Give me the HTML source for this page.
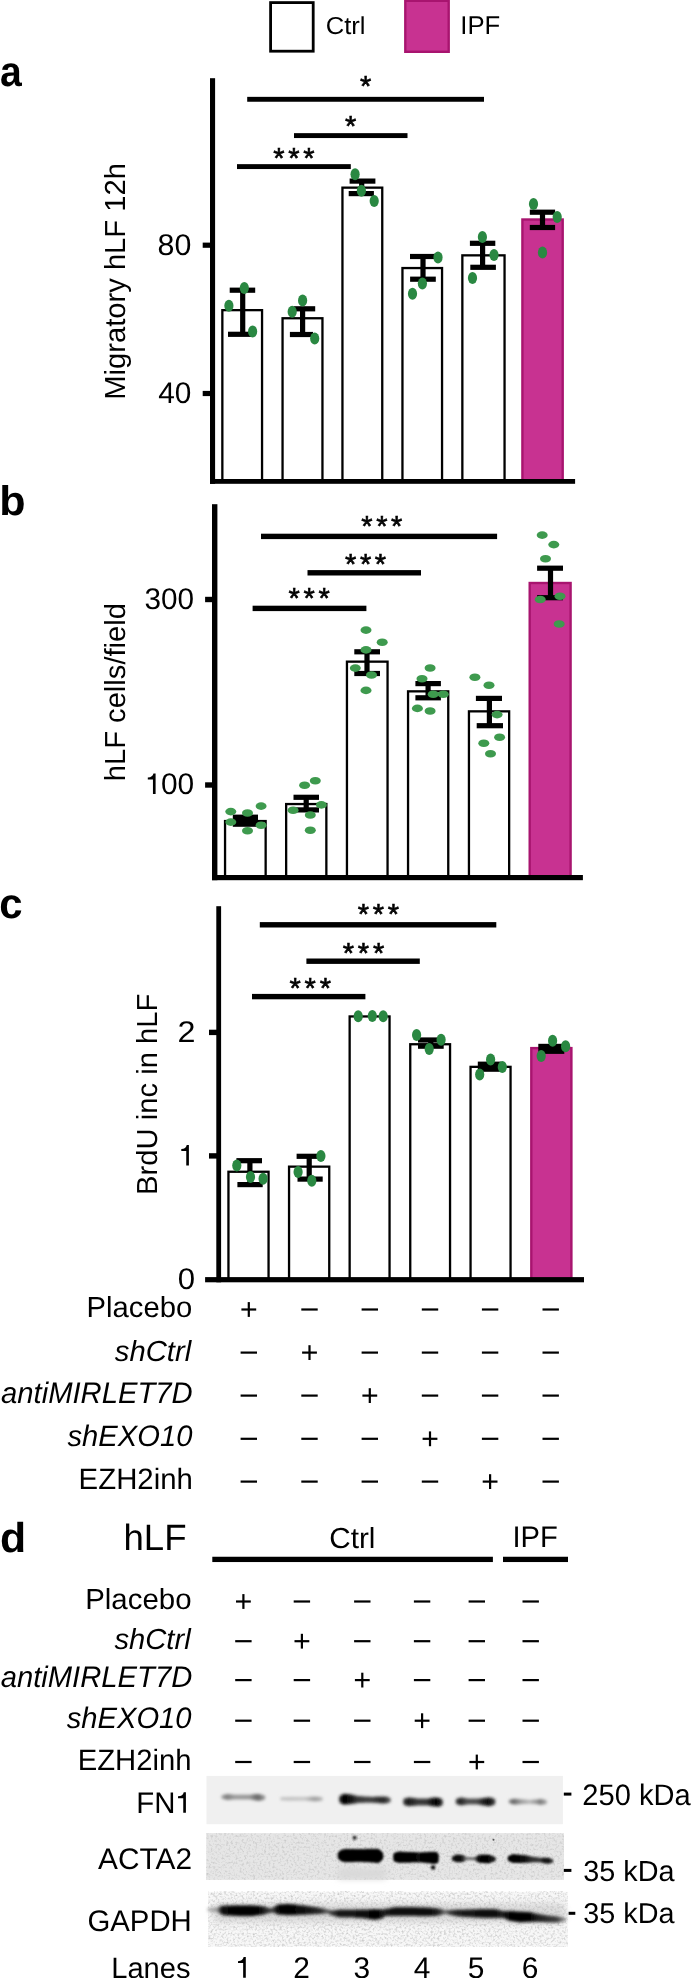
<!DOCTYPE html><html><head><meta charset="utf-8"><style>html,body{margin:0;padding:0;background:#fff;overflow:hidden}svg{display:block;will-change:transform}text{font-family:"Liberation Sans",sans-serif;text-rendering:geometricPrecision}</style></head><body>
<svg width="692" height="1978" viewBox="0 0 692 1978">
<defs><filter id="b12" x="-30%" y="-100%" width="160%" height="300%"><feGaussianBlur stdDeviation="1.2"/></filter><filter id="b14" x="-30%" y="-100%" width="160%" height="300%"><feGaussianBlur stdDeviation="1.4"/></filter><filter id="b18" x="-30%" y="-100%" width="160%" height="300%"><feGaussianBlur stdDeviation="1.8"/></filter><filter id="b20" x="-30%" y="-100%" width="160%" height="300%"><feGaussianBlur stdDeviation="2.0"/></filter><filter id="b30" x="-30%" y="-100%" width="160%" height="300%"><feGaussianBlur stdDeviation="3.0"/></filter></defs>
<defs><filter id="nz1" x="0" y="0" width="100%" height="100%" filterUnits="objectBoundingBox"><feTurbulence type="fractalNoise" baseFrequency="0.45" numOctaves="2" seed="7"/><feGaussianBlur stdDeviation="0.6"/><feColorMatrix type="matrix" values="0 0 0 0 0  0 0 0 0 0  0 0 0 0 0  0.45 0 0 0 -0.2"/></filter><filter id="nz2" x="0" y="0" width="100%" height="100%" filterUnits="objectBoundingBox"><feTurbulence type="fractalNoise" baseFrequency="0.45" numOctaves="2" seed="3"/><feGaussianBlur stdDeviation="0.6"/><feColorMatrix type="matrix" values="0 0 0 0 0  0 0 0 0 0  0 0 0 0 0  0.3 0 0 0 -0.14"/></filter></defs>
<defs><filter id="bl1" x="-20%" y="-50%" width="140%" height="200%"><feGaussianBlur stdDeviation="1.6"/></filter><filter id="bl2" x="-20%" y="-50%" width="140%" height="200%"><feGaussianBlur stdDeviation="2.2"/></filter><filter id="bl3" x="-5%" y="-5%" width="110%" height="110%"><feGaussianBlur stdDeviation="3"/></filter></defs>
<rect width="692" height="1978" fill="#fff"/>
<rect x="270.6" y="2.6" width="42.6" height="48.6" fill="#fff" stroke="#000" stroke-width="2.8"/>
<rect x="405.3" y="0.8" width="43.4" height="51.0" fill="#C83291" stroke="#A8146F" stroke-width="2.4"/>
<text x="325.65" y="34.40" font-size="24.5" font-weight="normal" font-style="normal" textLength="39.83" lengthAdjust="spacingAndGlyphs" fill="#000">Ctrl</text>
<text x="460.30" y="34.40" font-size="25.7" font-weight="normal" font-style="normal" textLength="39.98" lengthAdjust="spacingAndGlyphs" fill="#000">IPF</text>
<text x="-0.10" y="85.80" font-size="42.5" font-weight="bold" font-style="normal" textLength="21.77" lengthAdjust="spacingAndGlyphs" fill="#000">a</text>
<text x="-0.82" y="515.10" font-size="41.3" font-weight="bold" font-style="normal" textLength="26.32" lengthAdjust="spacingAndGlyphs" fill="#000">b</text>
<text x="-0.78" y="918.10" font-size="42.5" font-weight="bold" font-style="normal" textLength="23.30" lengthAdjust="spacingAndGlyphs" fill="#000">c</text>
<text x="-0.14" y="1551.90" font-size="41.8" font-weight="bold" font-style="normal" textLength="26.13" lengthAdjust="spacingAndGlyphs" fill="#000">d</text>
<text transform="translate(124.50,399.81) rotate(-90)" x="0" y="0" font-size="29" textLength="236.76" lengthAdjust="spacingAndGlyphs">Migratory hLF 12h</text>
<text x="157.58" y="254.50" font-size="29.9" font-weight="normal" font-style="normal" textLength="33.80" lengthAdjust="spacingAndGlyphs" fill="#000">80</text>
<text x="158.20" y="403.30" font-size="29.9" font-weight="normal" font-style="normal" textLength="33.15" lengthAdjust="spacingAndGlyphs" fill="#000">40</text>
<rect x="222.35" y="310.15" width="39.70" height="170.00" fill="#fff" stroke="#000" stroke-width="2.3"/>
<rect x="282.55" y="318.25" width="39.90" height="161.90" fill="#fff" stroke="#000" stroke-width="2.3"/>
<rect x="342.45" y="187.65" width="39.80" height="292.50" fill="#fff" stroke="#000" stroke-width="2.3"/>
<rect x="402.45" y="268.05" width="39.60" height="212.10" fill="#fff" stroke="#000" stroke-width="2.3"/>
<rect x="462.35" y="255.35" width="42.20" height="224.80" fill="#fff" stroke="#000" stroke-width="2.3"/>
<rect x="522.40" y="219.50" width="40.30" height="260.70" fill="#C83291" stroke="#A8146F" stroke-width="2.4"/>
<rect x="240.10" y="290.20" width="5.20" height="44.10" fill="#000"/>
<rect x="229.70" y="287.60" width="25.50" height="5.20" fill="#000"/>
<rect x="228.00" y="331.70" width="25.00" height="5.20" fill="#000"/>
<rect x="300.00" y="308.80" width="5.20" height="25.70" fill="#000"/>
<rect x="293.90" y="306.20" width="21.30" height="5.20" fill="#000"/>
<rect x="289.90" y="331.90" width="23.10" height="5.20" fill="#000"/>
<rect x="359.10" y="181.10" width="5.20" height="12.50" fill="#000"/>
<rect x="349.60" y="178.50" width="25.80" height="5.20" fill="#000"/>
<rect x="348.70" y="191.00" width="25.20" height="5.20" fill="#000"/>
<rect x="420.40" y="256.50" width="5.20" height="22.70" fill="#000"/>
<rect x="410.00" y="253.90" width="26.00" height="5.20" fill="#000"/>
<rect x="410.10" y="276.60" width="25.70" height="5.20" fill="#000"/>
<rect x="480.00" y="243.30" width="5.20" height="24.00" fill="#000"/>
<rect x="469.90" y="240.70" width="25.40" height="5.20" fill="#000"/>
<rect x="470.30" y="264.70" width="25.60" height="5.20" fill="#000"/>
<rect x="539.90" y="212.20" width="5.20" height="15.30" fill="#000"/>
<rect x="529.80" y="209.60" width="25.30" height="5.20" fill="#000"/>
<rect x="529.80" y="224.90" width="25.30" height="5.20" fill="#000"/>
<ellipse cx="244.30" cy="288.10" rx="4.6" ry="6.0" fill="#2A8842"/>
<ellipse cx="228.90" cy="305.80" rx="4.6" ry="6.0" fill="#2A8842"/>
<ellipse cx="252.60" cy="331.40" rx="4.6" ry="6.0" fill="#2A8842"/>
<ellipse cx="302.60" cy="300.50" rx="4.6" ry="6.0" fill="#2A8842"/>
<ellipse cx="292.20" cy="311.80" rx="4.6" ry="6.0" fill="#2A8842"/>
<ellipse cx="314.70" cy="338.60" rx="4.6" ry="6.0" fill="#2A8842"/>
<ellipse cx="355.10" cy="174.20" rx="4.6" ry="6.0" fill="#2A8842"/>
<ellipse cx="361.40" cy="190.70" rx="4.6" ry="6.0" fill="#2A8842"/>
<ellipse cx="374.20" cy="200.90" rx="4.6" ry="6.0" fill="#2A8842"/>
<ellipse cx="438.00" cy="257.40" rx="4.6" ry="6.0" fill="#2A8842"/>
<ellipse cx="422.40" cy="283.40" rx="4.6" ry="6.0" fill="#2A8842"/>
<ellipse cx="412.50" cy="293.80" rx="4.6" ry="6.0" fill="#2A8842"/>
<ellipse cx="482.40" cy="236.90" rx="4.6" ry="6.0" fill="#2A8842"/>
<ellipse cx="494.00" cy="255.00" rx="4.6" ry="6.0" fill="#2A8842"/>
<ellipse cx="472.50" cy="278.00" rx="4.6" ry="6.0" fill="#2A8842"/>
<ellipse cx="533.50" cy="203.90" rx="4.6" ry="6.0" fill="#2A8842"/>
<ellipse cx="557.20" cy="216.90" rx="4.6" ry="6.0" fill="#2A8842"/>
<ellipse cx="542.50" cy="252.40" rx="4.6" ry="6.0" fill="#2A8842"/>
<rect x="210.00" y="78.20" width="5.10" height="405.60" fill="#000"/>
<rect x="210.00" y="479.00" width="365.10" height="4.80" fill="#000"/>
<rect x="202.70" y="242.60" width="9.30" height="5.20" fill="#000"/>
<rect x="202.70" y="390.90" width="9.30" height="5.20" fill="#000"/>
<rect x="247.20" y="96.85" width="236.80" height="4.90" fill="#000"/>
<rect x="294.00" y="133.15" width="113.50" height="4.90" fill="#000"/>
<rect x="237.00" y="164.15" width="113.80" height="4.90" fill="#000"/>
<text x="360.05" y="95.60" font-size="29.0" font-weight="normal" font-style="normal" fill="#000" stroke="#000" stroke-width="0.6">*</text>
<text x="345.00" y="136.40" font-size="29.0" font-weight="normal" font-style="normal" fill="#000" stroke="#000" stroke-width="0.6">*</text>
<text x="273.25" y="168.30" font-size="29.0" font-weight="normal" font-style="normal" fill="#000" stroke="#000" stroke-width="0.6">*</text>
<text x="288.30" y="168.30" font-size="29.0" font-weight="normal" font-style="normal" fill="#000" stroke="#000" stroke-width="0.6">*</text>
<text x="303.35" y="168.30" font-size="29.0" font-weight="normal" font-style="normal" fill="#000" stroke="#000" stroke-width="0.6">*</text>
<text transform="translate(124.60,781.31) rotate(-90)" x="0" y="0" font-size="29" textLength="178.32" lengthAdjust="spacingAndGlyphs">hLF cells/field</text>
<text x="144.51" y="609.10" font-size="29.9" font-weight="normal" font-style="normal" textLength="49.58" lengthAdjust="spacingAndGlyphs" fill="#000">300</text>
<path d="M152.95,794.00 L155.60,794.00 L155.60,773.60 L153.45,773.60 C152.75,776.05 151.35,777.48 147.80,777.58 L147.80,779.52 L152.95,779.52 Z" fill="#000"/>
<text x="160.90" y="794.10" font-size="29.9" font-weight="normal" font-style="normal" textLength="33.26" lengthAdjust="spacingAndGlyphs" fill="#000">00</text>
<rect x="225.05" y="821.05" width="40.60" height="56.10" fill="#fff" stroke="#000" stroke-width="2.3"/>
<rect x="286.15" y="804.05" width="40.20" height="73.10" fill="#fff" stroke="#000" stroke-width="2.3"/>
<rect x="346.95" y="661.65" width="40.60" height="215.50" fill="#fff" stroke="#000" stroke-width="2.3"/>
<rect x="408.05" y="691.35" width="40.20" height="185.80" fill="#fff" stroke="#000" stroke-width="2.3"/>
<rect x="468.95" y="711.35" width="40.20" height="165.80" fill="#fff" stroke="#000" stroke-width="2.3"/>
<rect x="529.70" y="583.00" width="40.90" height="294.20" fill="#C83291" stroke="#A8146F" stroke-width="2.4"/>
<rect x="232.80" y="814.60" width="25.20" height="12.20" fill="#000"/>
<rect x="303.60" y="797.30" width="5.20" height="12.60" fill="#000"/>
<rect x="293.50" y="794.70" width="25.50" height="5.20" fill="#000"/>
<rect x="293.50" y="807.30" width="25.50" height="5.20" fill="#000"/>
<rect x="364.40" y="651.80" width="5.20" height="21.70" fill="#000"/>
<rect x="354.30" y="649.20" width="25.70" height="5.20" fill="#000"/>
<rect x="354.30" y="670.90" width="25.70" height="5.20" fill="#000"/>
<rect x="425.50" y="683.60" width="5.20" height="14.20" fill="#000"/>
<rect x="415.40" y="681.00" width="25.50" height="5.20" fill="#000"/>
<rect x="415.40" y="695.20" width="25.50" height="5.20" fill="#000"/>
<rect x="486.80" y="698.40" width="5.20" height="27.30" fill="#000"/>
<rect x="475.90" y="695.80" width="26.10" height="5.20" fill="#000"/>
<rect x="476.70" y="723.10" width="26.30" height="5.20" fill="#000"/>
<rect x="547.90" y="568.20" width="5.20" height="29.50" fill="#000"/>
<rect x="537.10" y="565.60" width="25.90" height="5.20" fill="#000"/>
<rect x="537.10" y="595.10" width="25.90" height="5.20" fill="#000"/>
<ellipse cx="230.80" cy="811.60" rx="5.5" ry="3.8" fill="#3E9A4E"/>
<ellipse cx="247.50" cy="813.00" rx="5.5" ry="3.8" fill="#3E9A4E"/>
<ellipse cx="261.10" cy="806.10" rx="5.5" ry="3.8" fill="#3E9A4E"/>
<ellipse cx="230.80" cy="822.10" rx="5.5" ry="3.8" fill="#3E9A4E"/>
<ellipse cx="261.10" cy="825.30" rx="5.5" ry="3.8" fill="#3E9A4E"/>
<ellipse cx="247.50" cy="830.80" rx="5.5" ry="3.8" fill="#3E9A4E"/>
<ellipse cx="315.30" cy="780.80" rx="5.5" ry="3.8" fill="#3E9A4E"/>
<ellipse cx="304.60" cy="785.30" rx="5.5" ry="3.8" fill="#3E9A4E"/>
<ellipse cx="321.40" cy="804.90" rx="5.5" ry="3.8" fill="#3E9A4E"/>
<ellipse cx="293.10" cy="810.20" rx="5.5" ry="3.8" fill="#3E9A4E"/>
<ellipse cx="310.30" cy="815.00" rx="5.5" ry="3.8" fill="#3E9A4E"/>
<ellipse cx="310.30" cy="830.20" rx="5.5" ry="3.8" fill="#3E9A4E"/>
<ellipse cx="366.00" cy="630.10" rx="5.5" ry="3.8" fill="#3E9A4E"/>
<ellipse cx="382.20" cy="642.30" rx="5.5" ry="3.8" fill="#3E9A4E"/>
<ellipse cx="366.00" cy="649.90" rx="5.5" ry="3.8" fill="#3E9A4E"/>
<ellipse cx="355.30" cy="668.10" rx="5.5" ry="3.8" fill="#3E9A4E"/>
<ellipse cx="371.50" cy="675.00" rx="5.5" ry="3.8" fill="#3E9A4E"/>
<ellipse cx="366.00" cy="690.40" rx="5.5" ry="3.8" fill="#3E9A4E"/>
<ellipse cx="430.10" cy="668.00" rx="5.5" ry="3.8" fill="#3E9A4E"/>
<ellipse cx="422.00" cy="678.70" rx="5.5" ry="3.8" fill="#3E9A4E"/>
<ellipse cx="433.20" cy="694.20" rx="5.5" ry="3.8" fill="#3E9A4E"/>
<ellipse cx="443.30" cy="694.20" rx="5.5" ry="3.8" fill="#3E9A4E"/>
<ellipse cx="417.40" cy="708.40" rx="5.5" ry="3.8" fill="#3E9A4E"/>
<ellipse cx="430.10" cy="711.00" rx="5.5" ry="3.8" fill="#3E9A4E"/>
<ellipse cx="474.90" cy="677.20" rx="5.5" ry="3.8" fill="#3E9A4E"/>
<ellipse cx="489.00" cy="685.30" rx="5.5" ry="3.8" fill="#3E9A4E"/>
<ellipse cx="497.10" cy="714.60" rx="5.5" ry="3.8" fill="#3E9A4E"/>
<ellipse cx="499.60" cy="737.30" rx="5.5" ry="3.8" fill="#3E9A4E"/>
<ellipse cx="483.80" cy="743.30" rx="5.5" ry="3.8" fill="#3E9A4E"/>
<ellipse cx="490.50" cy="753.70" rx="5.5" ry="3.8" fill="#3E9A4E"/>
<ellipse cx="542.20" cy="535.10" rx="5.5" ry="3.8" fill="#3E9A4E"/>
<ellipse cx="553.80" cy="544.60" rx="5.5" ry="3.8" fill="#3E9A4E"/>
<ellipse cx="545.50" cy="558.70" rx="5.5" ry="3.8" fill="#3E9A4E"/>
<ellipse cx="560.00" cy="596.20" rx="5.5" ry="3.8" fill="#3E9A4E"/>
<ellipse cx="540.20" cy="599.50" rx="5.5" ry="3.8" fill="#3E9A4E"/>
<ellipse cx="559.20" cy="624.00" rx="5.5" ry="3.8" fill="#3E9A4E"/>
<rect x="212.00" y="504.20" width="5.40" height="376.00" fill="#000"/>
<rect x="212.00" y="875.00" width="370.90" height="5.20" fill="#000"/>
<rect x="205.10" y="596.80" width="8.90" height="5.40" fill="#000"/>
<rect x="205.10" y="782.30" width="8.90" height="5.40" fill="#000"/>
<rect x="261.00" y="533.70" width="236.10" height="5.40" fill="#000"/>
<rect x="307.50" y="570.10" width="113.50" height="5.40" fill="#000"/>
<rect x="252.60" y="605.70" width="113.80" height="5.40" fill="#000"/>
<text x="361.35" y="536.30" font-size="29.0" font-weight="normal" font-style="normal" fill="#000" stroke="#000" stroke-width="0.6">*</text>
<text x="376.15" y="536.30" font-size="29.0" font-weight="normal" font-style="normal" fill="#000" stroke="#000" stroke-width="0.6">*</text>
<text x="390.95" y="536.30" font-size="29.0" font-weight="normal" font-style="normal" fill="#000" stroke="#000" stroke-width="0.6">*</text>
<text x="345.05" y="573.90" font-size="29.0" font-weight="normal" font-style="normal" fill="#000" stroke="#000" stroke-width="0.6">*</text>
<text x="359.95" y="573.90" font-size="29.0" font-weight="normal" font-style="normal" fill="#000" stroke="#000" stroke-width="0.6">*</text>
<text x="374.85" y="573.90" font-size="29.0" font-weight="normal" font-style="normal" fill="#000" stroke="#000" stroke-width="0.6">*</text>
<text x="288.45" y="607.80" font-size="29.0" font-weight="normal" font-style="normal" fill="#000" stroke="#000" stroke-width="0.6">*</text>
<text x="303.45" y="607.80" font-size="29.0" font-weight="normal" font-style="normal" fill="#000" stroke="#000" stroke-width="0.6">*</text>
<text x="318.45" y="607.80" font-size="29.0" font-weight="normal" font-style="normal" fill="#000" stroke="#000" stroke-width="0.6">*</text>
<text transform="translate(156.90,1195.02) rotate(-90)" x="0" y="0" font-size="29" textLength="201.38" lengthAdjust="spacingAndGlyphs">BrdU inc in hLF</text>
<text x="177.48" y="1041.60" font-size="29.9" font-weight="normal" font-style="normal" textLength="17.98" lengthAdjust="spacingAndGlyphs" fill="#000">2</text>
<path d="M186.25,1165.60 L188.90,1165.60 L188.90,1144.90 L186.75,1144.90 C186.05,1147.38 184.65,1148.83 181.30,1148.94 L181.30,1150.90 L186.25,1150.90 Z" fill="#000"/>
<text x="177.85" y="1289.10" font-size="29.9" font-weight="normal" font-style="normal" textLength="17.33" lengthAdjust="spacingAndGlyphs" fill="#000">0</text>
<rect x="228.45" y="1171.75" width="40.10" height="107.40" fill="#fff" stroke="#000" stroke-width="2.3"/>
<rect x="289.05" y="1166.65" width="40.20" height="112.50" fill="#fff" stroke="#000" stroke-width="2.3"/>
<rect x="349.65" y="1016.45" width="39.90" height="262.70" fill="#fff" stroke="#000" stroke-width="2.3"/>
<rect x="410.25" y="1044.25" width="39.80" height="234.90" fill="#fff" stroke="#000" stroke-width="2.3"/>
<rect x="470.55" y="1066.85" width="40.00" height="212.30" fill="#fff" stroke="#000" stroke-width="2.3"/>
<rect x="531.30" y="1048.10" width="40.10" height="231.10" fill="#C83291" stroke="#A8146F" stroke-width="2.4"/>
<rect x="247.30" y="1160.70" width="5.20" height="23.90" fill="#000"/>
<rect x="236.40" y="1158.10" width="25.60" height="5.20" fill="#000"/>
<rect x="237.40" y="1182.00" width="25.30" height="5.20" fill="#000"/>
<rect x="306.60" y="1156.30" width="5.20" height="22.80" fill="#000"/>
<rect x="296.60" y="1153.70" width="25.30" height="5.20" fill="#000"/>
<rect x="297.50" y="1176.50" width="25.20" height="5.20" fill="#000"/>
<rect x="428.20" y="1040.00" width="5.20" height="6.20" fill="#000"/>
<rect x="418.00" y="1037.40" width="25.70" height="5.20" fill="#000"/>
<rect x="418.00" y="1043.60" width="25.70" height="5.20" fill="#000"/>
<rect x="486.90" y="1064.20" width="5.20" height="5.00" fill="#000"/>
<rect x="477.80" y="1061.60" width="23.50" height="5.20" fill="#000"/>
<rect x="477.80" y="1066.60" width="23.50" height="5.20" fill="#000"/>
<rect x="548.70" y="1046.40" width="5.20" height="4.90" fill="#000"/>
<rect x="538.30" y="1043.80" width="26.00" height="5.20" fill="#000"/>
<rect x="538.30" y="1048.70" width="26.00" height="5.20" fill="#000"/>
<ellipse cx="236.80" cy="1165.50" rx="4.6" ry="6.0" fill="#2A8842"/>
<ellipse cx="250.50" cy="1177.00" rx="4.6" ry="6.0" fill="#2A8842"/>
<ellipse cx="263.10" cy="1178.70" rx="4.6" ry="6.0" fill="#2A8842"/>
<ellipse cx="320.90" cy="1156.00" rx="4.6" ry="6.0" fill="#2A8842"/>
<ellipse cx="298.10" cy="1172.00" rx="4.6" ry="6.0" fill="#2A8842"/>
<ellipse cx="311.80" cy="1180.70" rx="4.6" ry="6.0" fill="#2A8842"/>
<ellipse cx="358.20" cy="1016.30" rx="4.6" ry="6.0" fill="#2A8842"/>
<ellipse cx="372.30" cy="1015.90" rx="4.6" ry="6.0" fill="#2A8842"/>
<ellipse cx="383.20" cy="1016.30" rx="4.6" ry="6.0" fill="#2A8842"/>
<ellipse cx="416.60" cy="1035.10" rx="4.6" ry="6.0" fill="#2A8842"/>
<ellipse cx="441.10" cy="1039.80" rx="4.6" ry="6.0" fill="#2A8842"/>
<ellipse cx="429.20" cy="1049.10" rx="4.6" ry="6.0" fill="#2A8842"/>
<ellipse cx="490.60" cy="1059.50" rx="4.6" ry="6.0" fill="#2A8842"/>
<ellipse cx="502.30" cy="1067.00" rx="4.6" ry="6.0" fill="#2A8842"/>
<ellipse cx="479.70" cy="1074.50" rx="4.6" ry="6.0" fill="#2A8842"/>
<ellipse cx="552.60" cy="1040.70" rx="4.6" ry="6.0" fill="#2A8842"/>
<ellipse cx="565.60" cy="1046.30" rx="4.6" ry="6.0" fill="#2A8842"/>
<ellipse cx="541.20" cy="1056.10" rx="4.6" ry="6.0" fill="#2A8842"/>
<rect x="216.30" y="906.20" width="4.80" height="376.10" fill="#000"/>
<rect x="205.10" y="1277.10" width="378.90" height="5.20" fill="#000"/>
<rect x="209.00" y="1029.70" width="9.00" height="5.40" fill="#000"/>
<rect x="209.00" y="1153.20" width="9.00" height="5.40" fill="#000"/>
<rect x="259.80" y="922.10" width="236.50" height="5.40" fill="#000"/>
<rect x="306.40" y="958.50" width="113.40" height="5.40" fill="#000"/>
<rect x="252.00" y="993.90" width="113.40" height="5.40" fill="#000"/>
<text x="357.65" y="924.30" font-size="29.0" font-weight="normal" font-style="normal" fill="#000" stroke="#000" stroke-width="0.6">*</text>
<text x="372.70" y="924.30" font-size="29.0" font-weight="normal" font-style="normal" fill="#000" stroke="#000" stroke-width="0.6">*</text>
<text x="387.75" y="924.30" font-size="29.0" font-weight="normal" font-style="normal" fill="#000" stroke="#000" stroke-width="0.6">*</text>
<text x="342.75" y="963.30" font-size="29.0" font-weight="normal" font-style="normal" fill="#000" stroke="#000" stroke-width="0.6">*</text>
<text x="357.85" y="963.30" font-size="29.0" font-weight="normal" font-style="normal" fill="#000" stroke="#000" stroke-width="0.6">*</text>
<text x="372.95" y="963.30" font-size="29.0" font-weight="normal" font-style="normal" fill="#000" stroke="#000" stroke-width="0.6">*</text>
<text x="289.55" y="998.30" font-size="29.0" font-weight="normal" font-style="normal" fill="#000" stroke="#000" stroke-width="0.6">*</text>
<text x="304.60" y="998.30" font-size="29.0" font-weight="normal" font-style="normal" fill="#000" stroke="#000" stroke-width="0.6">*</text>
<text x="319.65" y="998.30" font-size="29.0" font-weight="normal" font-style="normal" fill="#000" stroke="#000" stroke-width="0.6">*</text>
<text x="86.58" y="1317.20" font-size="29.0" font-weight="normal" font-style="normal" textLength="105.63" lengthAdjust="spacingAndGlyphs" fill="#000">Placebo</text>
<text x="114.80" y="1360.70" font-size="29.0" font-weight="normal" font-style="italic" textLength="76.33" lengthAdjust="spacingAndGlyphs" fill="#000">shCtrl</text>
<text x="1.01" y="1402.90" font-size="29.7" font-weight="normal" font-style="italic" textLength="191.73" lengthAdjust="spacingAndGlyphs" fill="#000">antiMIRLET7D</text>
<text x="67.50" y="1446.00" font-size="29.6" font-weight="normal" font-style="italic" textLength="124.99" lengthAdjust="spacingAndGlyphs" fill="#000">shEXO10</text>
<text x="78.61" y="1489.00" font-size="29.5" font-weight="normal" font-style="normal" textLength="114.26" lengthAdjust="spacingAndGlyphs" fill="#000">EZH2inh</text>
<rect x="241.40" y="1308.40" width="14.80" height="2.20" fill="#000"/>
<rect x="247.70" y="1302.10" width="2.20" height="14.80" fill="#000"/>
<rect x="301.30" y="1308.40" width="16.40" height="2.20" fill="#000"/>
<rect x="361.60" y="1308.40" width="16.40" height="2.20" fill="#000"/>
<rect x="421.80" y="1308.40" width="16.40" height="2.20" fill="#000"/>
<rect x="481.90" y="1308.40" width="16.40" height="2.20" fill="#000"/>
<rect x="542.50" y="1308.40" width="16.40" height="2.20" fill="#000"/>
<rect x="240.60" y="1351.50" width="16.40" height="2.20" fill="#000"/>
<rect x="302.10" y="1351.50" width="14.80" height="2.20" fill="#000"/>
<rect x="308.40" y="1345.20" width="2.20" height="14.80" fill="#000"/>
<rect x="361.60" y="1351.50" width="16.40" height="2.20" fill="#000"/>
<rect x="421.80" y="1351.50" width="16.40" height="2.20" fill="#000"/>
<rect x="481.90" y="1351.50" width="16.40" height="2.20" fill="#000"/>
<rect x="542.50" y="1351.50" width="16.40" height="2.20" fill="#000"/>
<rect x="240.60" y="1394.50" width="16.40" height="2.20" fill="#000"/>
<rect x="301.30" y="1394.50" width="16.40" height="2.20" fill="#000"/>
<rect x="362.40" y="1394.50" width="14.80" height="2.20" fill="#000"/>
<rect x="368.70" y="1388.20" width="2.20" height="14.80" fill="#000"/>
<rect x="421.80" y="1394.50" width="16.40" height="2.20" fill="#000"/>
<rect x="481.90" y="1394.50" width="16.40" height="2.20" fill="#000"/>
<rect x="542.50" y="1394.50" width="16.40" height="2.20" fill="#000"/>
<rect x="240.60" y="1437.70" width="16.40" height="2.20" fill="#000"/>
<rect x="301.30" y="1437.70" width="16.40" height="2.20" fill="#000"/>
<rect x="361.60" y="1437.70" width="16.40" height="2.20" fill="#000"/>
<rect x="422.60" y="1437.70" width="14.80" height="2.20" fill="#000"/>
<rect x="428.90" y="1431.40" width="2.20" height="14.80" fill="#000"/>
<rect x="481.90" y="1437.70" width="16.40" height="2.20" fill="#000"/>
<rect x="542.50" y="1437.70" width="16.40" height="2.20" fill="#000"/>
<rect x="240.60" y="1480.50" width="16.40" height="2.20" fill="#000"/>
<rect x="301.30" y="1480.50" width="16.40" height="2.20" fill="#000"/>
<rect x="361.60" y="1480.50" width="16.40" height="2.20" fill="#000"/>
<rect x="421.80" y="1480.50" width="16.40" height="2.20" fill="#000"/>
<rect x="482.70" y="1480.50" width="14.80" height="2.20" fill="#000"/>
<rect x="489.00" y="1474.20" width="2.20" height="14.80" fill="#000"/>
<rect x="542.50" y="1480.50" width="16.40" height="2.20" fill="#000"/>
<text x="123.50" y="1549.90" font-size="36.6" font-weight="normal" font-style="normal" textLength="63.07" lengthAdjust="spacingAndGlyphs" fill="#000">hLF</text>
<rect x="212.30" y="1556.75" width="280.60" height="5.30" fill="#000"/>
<rect x="503.00" y="1556.75" width="65.00" height="5.30" fill="#000"/>
<text x="329.26" y="1547.50" font-size="29" font-weight="normal" font-style="normal" textLength="46.18" lengthAdjust="spacingAndGlyphs" fill="#000">Ctrl</text>
<text x="512.46" y="1547.40" font-size="29.8" font-weight="normal" font-style="normal" textLength="45.38" lengthAdjust="spacingAndGlyphs" fill="#000">IPF</text>
<text x="85.16" y="1609.30" font-size="29.0" font-weight="normal" font-style="normal" textLength="106.35" lengthAdjust="spacingAndGlyphs" fill="#000">Placebo</text>
<text x="114.40" y="1648.60" font-size="29.0" font-weight="normal" font-style="italic" textLength="76.23" lengthAdjust="spacingAndGlyphs" fill="#000">shCtrl</text>
<text x="0.71" y="1687.30" font-size="29.7" font-weight="normal" font-style="italic" textLength="191.53" lengthAdjust="spacingAndGlyphs" fill="#000">antiMIRLET7D</text>
<text x="66.70" y="1727.80" font-size="29.6" font-weight="normal" font-style="italic" textLength="124.89" lengthAdjust="spacingAndGlyphs" fill="#000">shEXO10</text>
<text x="77.72" y="1769.50" font-size="29.5" font-weight="normal" font-style="normal" textLength="113.74" lengthAdjust="spacingAndGlyphs" fill="#000">EZH2inh</text>
<rect x="236.00" y="1600.40" width="14.80" height="2.20" fill="#000"/>
<rect x="242.30" y="1594.10" width="2.20" height="14.80" fill="#000"/>
<rect x="293.70" y="1600.40" width="16.40" height="2.20" fill="#000"/>
<rect x="354.10" y="1600.40" width="16.40" height="2.20" fill="#000"/>
<rect x="413.90" y="1600.40" width="16.40" height="2.20" fill="#000"/>
<rect x="468.60" y="1600.40" width="16.40" height="2.20" fill="#000"/>
<rect x="522.50" y="1600.40" width="16.40" height="2.20" fill="#000"/>
<rect x="235.20" y="1640.10" width="16.40" height="2.20" fill="#000"/>
<rect x="294.50" y="1640.10" width="14.80" height="2.20" fill="#000"/>
<rect x="300.80" y="1633.80" width="2.20" height="14.80" fill="#000"/>
<rect x="354.10" y="1640.10" width="16.40" height="2.20" fill="#000"/>
<rect x="413.90" y="1640.10" width="16.40" height="2.20" fill="#000"/>
<rect x="468.60" y="1640.10" width="16.40" height="2.20" fill="#000"/>
<rect x="522.50" y="1640.10" width="16.40" height="2.20" fill="#000"/>
<rect x="235.20" y="1679.00" width="16.40" height="2.20" fill="#000"/>
<rect x="293.70" y="1679.00" width="16.40" height="2.20" fill="#000"/>
<rect x="354.90" y="1679.00" width="14.80" height="2.20" fill="#000"/>
<rect x="361.20" y="1672.70" width="2.20" height="14.80" fill="#000"/>
<rect x="413.90" y="1679.00" width="16.40" height="2.20" fill="#000"/>
<rect x="468.60" y="1679.00" width="16.40" height="2.20" fill="#000"/>
<rect x="522.50" y="1679.00" width="16.40" height="2.20" fill="#000"/>
<rect x="235.20" y="1719.60" width="16.40" height="2.20" fill="#000"/>
<rect x="293.70" y="1719.60" width="16.40" height="2.20" fill="#000"/>
<rect x="354.10" y="1719.60" width="16.40" height="2.20" fill="#000"/>
<rect x="414.70" y="1719.60" width="14.80" height="2.20" fill="#000"/>
<rect x="421.00" y="1713.30" width="2.20" height="14.80" fill="#000"/>
<rect x="468.60" y="1719.60" width="16.40" height="2.20" fill="#000"/>
<rect x="522.50" y="1719.60" width="16.40" height="2.20" fill="#000"/>
<rect x="235.20" y="1760.90" width="16.40" height="2.20" fill="#000"/>
<rect x="293.70" y="1760.90" width="16.40" height="2.20" fill="#000"/>
<rect x="354.10" y="1760.90" width="16.40" height="2.20" fill="#000"/>
<rect x="413.90" y="1760.90" width="16.40" height="2.20" fill="#000"/>
<rect x="469.40" y="1760.90" width="14.80" height="2.20" fill="#000"/>
<rect x="475.70" y="1754.60" width="2.20" height="14.80" fill="#000"/>
<rect x="522.50" y="1760.90" width="16.40" height="2.20" fill="#000"/>
<rect x="206.50" y="1775.90" width="356.40" height="48.30" fill="#F0F0F0"/>
<rect x="206.20" y="1833.10" width="357.80" height="46.80" fill="#E6E6E6"/>
<rect x="206.2" y="1833.1" width="357.8" height="46.8" fill="#000" filter="url(#nz2)"/>
<rect x="208.00" y="1891.80" width="359.80" height="54.70" fill="#F7F7F7"/>
<rect x="208" y="1891.8" width="359.8" height="54.7" fill="#000" filter="url(#nz1)"/>
<g filter="url(#b18)">
<ellipse cx="223.0" cy="1797.0" rx="1.8" ry="2.0" fill="rgb(160,160,160)"/>
<ellipse cx="224.5" cy="1797.0" rx="1.8" ry="2.4" fill="rgb(147,147,147)"/>
<ellipse cx="226.0" cy="1797.0" rx="1.8" ry="2.8" fill="rgb(134,134,134)"/>
<ellipse cx="227.5" cy="1797.0" rx="1.8" ry="3.0" fill="rgb(127,127,127)"/>
<ellipse cx="229.0" cy="1797.0" rx="1.8" ry="2.9" fill="rgb(132,132,132)"/>
<ellipse cx="230.5" cy="1797.0" rx="1.8" ry="2.8" fill="rgb(137,137,137)"/>
<ellipse cx="232.0" cy="1797.0" rx="1.8" ry="2.7" fill="rgb(142,142,142)"/>
<ellipse cx="233.5" cy="1797.0" rx="1.8" ry="2.6" fill="rgb(147,147,147)"/>
<ellipse cx="235.0" cy="1797.0" rx="1.8" ry="2.6" fill="rgb(152,152,152)"/>
<ellipse cx="236.5" cy="1797.0" rx="1.8" ry="2.5" fill="rgb(155,155,155)"/>
<ellipse cx="238.0" cy="1797.0" rx="1.8" ry="2.5" fill="rgb(154,154,154)"/>
<ellipse cx="239.5" cy="1797.0" rx="1.8" ry="2.5" fill="rgb(154,154,154)"/>
<ellipse cx="241.0" cy="1797.0" rx="1.8" ry="2.5" fill="rgb(153,153,153)"/>
<ellipse cx="242.5" cy="1797.0" rx="1.8" ry="2.5" fill="rgb(153,153,153)"/>
<ellipse cx="244.0" cy="1797.0" rx="1.8" ry="2.5" fill="rgb(152,152,152)"/>
<ellipse cx="245.5" cy="1797.0" rx="1.8" ry="2.5" fill="rgb(152,152,152)"/>
<ellipse cx="247.0" cy="1797.0" rx="1.8" ry="2.5" fill="rgb(151,151,151)"/>
<ellipse cx="248.5" cy="1797.0" rx="1.8" ry="2.5" fill="rgb(151,151,151)"/>
<ellipse cx="250.0" cy="1797.0" rx="1.8" ry="2.5" fill="rgb(150,150,150)"/>
<ellipse cx="251.5" cy="1797.1" rx="1.8" ry="2.7" fill="rgb(142,142,142)"/>
<ellipse cx="253.0" cy="1797.1" rx="1.8" ry="2.9" fill="rgb(133,133,133)"/>
<ellipse cx="254.5" cy="1797.2" rx="1.8" ry="3.1" fill="rgb(125,125,125)"/>
<ellipse cx="256.0" cy="1797.2" rx="1.8" ry="3.2" fill="rgb(116,116,116)"/>
<ellipse cx="257.5" cy="1797.3" rx="1.8" ry="3.4" fill="rgb(108,108,108)"/>
<ellipse cx="259.0" cy="1797.4" rx="1.8" ry="3.3" fill="rgb(108,108,108)"/>
<ellipse cx="260.5" cy="1797.5" rx="1.8" ry="3.1" fill="rgb(113,113,113)"/>
<ellipse cx="262.0" cy="1797.5" rx="1.8" ry="2.7" fill="rgb(127,127,127)"/>
<ellipse cx="263.5" cy="1797.5" rx="1.8" ry="2.2" fill="rgb(144,144,144)"/>
</g>
<g filter="url(#b18)">
<ellipse cx="282.0" cy="1798.8" rx="1.8" ry="1.8" fill="rgb(195,195,195)"/>
<ellipse cx="283.5" cy="1798.8" rx="1.8" ry="1.8" fill="rgb(195,195,195)"/>
<ellipse cx="285.0" cy="1798.8" rx="1.8" ry="1.8" fill="rgb(195,195,195)"/>
<ellipse cx="286.5" cy="1798.8" rx="1.8" ry="1.9" fill="rgb(195,195,195)"/>
<ellipse cx="288.0" cy="1798.8" rx="1.8" ry="1.9" fill="rgb(195,195,195)"/>
<ellipse cx="289.5" cy="1798.8" rx="1.8" ry="2.0" fill="rgb(195,195,195)"/>
<ellipse cx="291.0" cy="1798.8" rx="1.8" ry="2.0" fill="rgb(195,195,195)"/>
<ellipse cx="292.5" cy="1798.8" rx="1.8" ry="2.0" fill="rgb(196,196,196)"/>
<ellipse cx="294.0" cy="1798.8" rx="1.8" ry="2.0" fill="rgb(196,196,196)"/>
<ellipse cx="295.5" cy="1798.8" rx="1.8" ry="2.0" fill="rgb(197,197,197)"/>
<ellipse cx="297.0" cy="1798.8" rx="1.8" ry="2.0" fill="rgb(197,197,197)"/>
<ellipse cx="298.5" cy="1798.8" rx="1.8" ry="2.0" fill="rgb(198,198,198)"/>
<ellipse cx="300.0" cy="1798.8" rx="1.8" ry="2.0" fill="rgb(198,198,198)"/>
<ellipse cx="301.5" cy="1798.8" rx="1.8" ry="2.0" fill="rgb(199,199,199)"/>
<ellipse cx="303.0" cy="1798.8" rx="1.8" ry="2.0" fill="rgb(199,199,199)"/>
<ellipse cx="304.5" cy="1798.8" rx="1.8" ry="2.0" fill="rgb(200,200,200)"/>
<ellipse cx="306.0" cy="1798.8" rx="1.8" ry="2.0" fill="rgb(196,196,196)"/>
<ellipse cx="307.5" cy="1798.8" rx="1.8" ry="2.1" fill="rgb(190,190,190)"/>
<ellipse cx="309.0" cy="1798.9" rx="1.8" ry="2.2" fill="rgb(184,184,184)"/>
<ellipse cx="310.5" cy="1798.9" rx="1.8" ry="2.3" fill="rgb(178,178,178)"/>
<ellipse cx="312.0" cy="1798.9" rx="1.8" ry="2.4" fill="rgb(172,172,172)"/>
<ellipse cx="313.5" cy="1799.0" rx="1.8" ry="2.4" fill="rgb(166,166,166)"/>
<ellipse cx="315.0" cy="1799.0" rx="1.8" ry="2.5" fill="rgb(160,160,160)"/>
<ellipse cx="316.5" cy="1799.0" rx="1.8" ry="2.4" fill="rgb(162,162,162)"/>
<ellipse cx="318.0" cy="1799.0" rx="1.8" ry="2.3" fill="rgb(164,164,164)"/>
<ellipse cx="319.5" cy="1799.0" rx="1.8" ry="2.2" fill="rgb(169,169,169)"/>
<ellipse cx="321.0" cy="1799.0" rx="1.8" ry="1.9" fill="rgb(182,182,182)"/>
</g>
<g filter="url(#b18)">
<ellipse cx="341.0" cy="1799.2" rx="1.8" ry="4.0" fill="rgb(30,30,30)"/>
<ellipse cx="342.5" cy="1799.2" rx="1.8" ry="4.8" fill="rgb(15,15,15)"/>
<ellipse cx="344.0" cy="1799.2" rx="1.8" ry="5.5" fill="rgb(0,0,0)"/>
<ellipse cx="345.5" cy="1799.2" rx="1.8" ry="5.4" fill="rgb(2,2,2)"/>
<ellipse cx="347.0" cy="1799.2" rx="1.8" ry="5.2" fill="rgb(5,5,5)"/>
<ellipse cx="348.5" cy="1799.3" rx="1.8" ry="5.1" fill="rgb(8,8,8)"/>
<ellipse cx="350.0" cy="1799.3" rx="1.8" ry="5.0" fill="rgb(10,10,10)"/>
<ellipse cx="351.5" cy="1799.3" rx="1.8" ry="4.7" fill="rgb(18,18,18)"/>
<ellipse cx="353.0" cy="1799.4" rx="1.8" ry="4.4" fill="rgb(27,27,27)"/>
<ellipse cx="354.5" cy="1799.4" rx="1.8" ry="4.2" fill="rgb(35,35,35)"/>
<ellipse cx="356.0" cy="1799.5" rx="1.8" ry="3.9" fill="rgb(44,44,44)"/>
<ellipse cx="357.5" cy="1799.5" rx="1.8" ry="3.6" fill="rgb(52,52,52)"/>
<ellipse cx="359.0" cy="1799.5" rx="1.8" ry="3.5" fill="rgb(56,56,56)"/>
<ellipse cx="360.5" cy="1799.5" rx="1.8" ry="3.4" fill="rgb(57,57,57)"/>
<ellipse cx="362.0" cy="1799.6" rx="1.8" ry="3.4" fill="rgb(58,58,58)"/>
<ellipse cx="363.5" cy="1799.6" rx="1.8" ry="3.3" fill="rgb(59,59,59)"/>
<ellipse cx="365.0" cy="1799.6" rx="1.8" ry="3.2" fill="rgb(60,60,60)"/>
<ellipse cx="366.5" cy="1799.6" rx="1.8" ry="3.2" fill="rgb(61,61,61)"/>
<ellipse cx="368.0" cy="1799.6" rx="1.8" ry="3.1" fill="rgb(62,62,62)"/>
<ellipse cx="369.5" cy="1799.7" rx="1.8" ry="3.1" fill="rgb(63,63,63)"/>
<ellipse cx="371.0" cy="1799.7" rx="1.8" ry="3.0" fill="rgb(64,64,64)"/>
<ellipse cx="372.5" cy="1799.7" rx="1.8" ry="3.0" fill="rgb(64,64,64)"/>
<ellipse cx="374.0" cy="1799.8" rx="1.8" ry="3.1" fill="rgb(60,60,60)"/>
<ellipse cx="375.5" cy="1799.8" rx="1.8" ry="3.2" fill="rgb(56,56,56)"/>
<ellipse cx="377.0" cy="1799.8" rx="1.8" ry="3.2" fill="rgb(52,52,52)"/>
<ellipse cx="378.5" cy="1799.9" rx="1.8" ry="3.3" fill="rgb(49,49,49)"/>
<ellipse cx="380.0" cy="1799.9" rx="1.8" ry="3.4" fill="rgb(45,45,45)"/>
<ellipse cx="381.5" cy="1800.0" rx="1.8" ry="3.5" fill="rgb(41,41,41)"/>
<ellipse cx="383.0" cy="1800.0" rx="1.8" ry="3.5" fill="rgb(41,41,41)"/>
<ellipse cx="384.5" cy="1800.0" rx="1.8" ry="3.5" fill="rgb(43,43,43)"/>
<ellipse cx="386.0" cy="1800.0" rx="1.8" ry="3.5" fill="rgb(45,45,45)"/>
<ellipse cx="387.5" cy="1800.0" rx="1.8" ry="3.0" fill="rgb(62,62,62)"/>
<ellipse cx="389.0" cy="1800.0" rx="1.8" ry="2.5" fill="rgb(80,80,80)"/>
</g>
<g filter="url(#b18)">
<ellipse cx="405.0" cy="1801.8" rx="1.8" ry="3.5" fill="rgb(50,50,50)"/>
<ellipse cx="406.5" cy="1801.8" rx="1.8" ry="3.9" fill="rgb(41,41,41)"/>
<ellipse cx="408.0" cy="1801.8" rx="1.8" ry="4.2" fill="rgb(31,31,31)"/>
<ellipse cx="409.5" cy="1801.8" rx="1.8" ry="4.4" fill="rgb(27,27,27)"/>
<ellipse cx="411.0" cy="1801.8" rx="1.8" ry="4.3" fill="rgb(32,32,32)"/>
<ellipse cx="412.5" cy="1801.9" rx="1.8" ry="4.1" fill="rgb(37,37,37)"/>
<ellipse cx="414.0" cy="1801.9" rx="1.8" ry="3.9" fill="rgb(42,42,42)"/>
<ellipse cx="415.5" cy="1801.9" rx="1.8" ry="3.8" fill="rgb(47,47,47)"/>
<ellipse cx="417.0" cy="1802.0" rx="1.8" ry="3.6" fill="rgb(52,52,52)"/>
<ellipse cx="418.5" cy="1802.0" rx="1.8" ry="3.5" fill="rgb(55,55,55)"/>
<ellipse cx="420.0" cy="1802.0" rx="1.8" ry="3.5" fill="rgb(55,55,55)"/>
<ellipse cx="421.5" cy="1802.0" rx="1.8" ry="3.5" fill="rgb(55,55,55)"/>
<ellipse cx="423.0" cy="1802.0" rx="1.8" ry="3.5" fill="rgb(55,55,55)"/>
<ellipse cx="424.5" cy="1802.0" rx="1.8" ry="3.5" fill="rgb(55,55,55)"/>
<ellipse cx="426.0" cy="1802.0" rx="1.8" ry="3.5" fill="rgb(55,55,55)"/>
<ellipse cx="427.5" cy="1802.0" rx="1.8" ry="3.6" fill="rgb(52,52,52)"/>
<ellipse cx="429.0" cy="1802.0" rx="1.8" ry="3.8" fill="rgb(42,42,42)"/>
<ellipse cx="430.5" cy="1802.0" rx="1.8" ry="4.0" fill="rgb(32,32,32)"/>
<ellipse cx="432.0" cy="1802.0" rx="1.8" ry="4.2" fill="rgb(23,23,23)"/>
<ellipse cx="433.5" cy="1802.0" rx="1.8" ry="4.4" fill="rgb(13,13,13)"/>
<ellipse cx="435.0" cy="1802.0" rx="1.8" ry="4.5" fill="rgb(8,8,8)"/>
<ellipse cx="436.5" cy="1802.1" rx="1.8" ry="4.5" fill="rgb(5,5,5)"/>
<ellipse cx="438.0" cy="1802.2" rx="1.8" ry="4.5" fill="rgb(2,2,2)"/>
<ellipse cx="439.5" cy="1802.2" rx="1.8" ry="4.2" fill="rgb(8,8,8)"/>
<ellipse cx="441.0" cy="1802.2" rx="1.8" ry="3.5" fill="rgb(33,33,33)"/>
</g>
<g filter="url(#b18)">
<ellipse cx="457.5" cy="1801.4" rx="1.8" ry="3.0" fill="rgb(60,60,60)"/>
<ellipse cx="459.0" cy="1801.4" rx="1.8" ry="3.4" fill="rgb(49,49,49)"/>
<ellipse cx="460.5" cy="1801.4" rx="1.8" ry="3.9" fill="rgb(39,39,39)"/>
<ellipse cx="462.0" cy="1801.4" rx="1.8" ry="3.9" fill="rgb(41,41,41)"/>
<ellipse cx="463.5" cy="1801.4" rx="1.8" ry="3.6" fill="rgb(51,51,51)"/>
<ellipse cx="465.0" cy="1801.5" rx="1.8" ry="3.4" fill="rgb(61,61,61)"/>
<ellipse cx="466.5" cy="1801.5" rx="1.8" ry="3.2" fill="rgb(70,70,70)"/>
<ellipse cx="468.0" cy="1801.5" rx="1.8" ry="3.0" fill="rgb(80,80,80)"/>
<ellipse cx="469.5" cy="1801.5" rx="1.8" ry="3.0" fill="rgb(79,79,79)"/>
<ellipse cx="471.0" cy="1801.5" rx="1.8" ry="3.0" fill="rgb(78,78,78)"/>
<ellipse cx="472.5" cy="1801.5" rx="1.8" ry="3.0" fill="rgb(78,78,78)"/>
<ellipse cx="474.0" cy="1801.6" rx="1.8" ry="3.0" fill="rgb(77,77,77)"/>
<ellipse cx="475.5" cy="1801.6" rx="1.8" ry="3.0" fill="rgb(76,76,76)"/>
<ellipse cx="477.0" cy="1801.6" rx="1.8" ry="3.0" fill="rgb(76,76,76)"/>
<ellipse cx="478.5" cy="1801.6" rx="1.8" ry="3.1" fill="rgb(71,71,71)"/>
<ellipse cx="480.0" cy="1801.6" rx="1.8" ry="3.3" fill="rgb(61,61,61)"/>
<ellipse cx="481.5" cy="1801.7" rx="1.8" ry="3.5" fill="rgb(50,50,50)"/>
<ellipse cx="483.0" cy="1801.7" rx="1.8" ry="3.7" fill="rgb(39,39,39)"/>
<ellipse cx="484.5" cy="1801.7" rx="1.8" ry="3.9" fill="rgb(29,29,29)"/>
<ellipse cx="486.0" cy="1801.7" rx="1.8" ry="4.1" fill="rgb(22,22,22)"/>
<ellipse cx="487.5" cy="1801.8" rx="1.8" ry="4.2" fill="rgb(18,18,18)"/>
<ellipse cx="489.0" cy="1801.8" rx="1.8" ry="4.4" fill="rgb(13,13,13)"/>
<ellipse cx="490.5" cy="1801.8" rx="1.8" ry="4.3" fill="rgb(16,16,16)"/>
<ellipse cx="492.0" cy="1801.8" rx="1.8" ry="3.8" fill="rgb(32,32,32)"/>
<ellipse cx="493.5" cy="1801.8" rx="1.8" ry="3.3" fill="rgb(49,49,49)"/>
</g>
<g filter="url(#b18)">
<ellipse cx="510.5" cy="1801.6" rx="1.8" ry="2.0" fill="rgb(130,130,130)"/>
<ellipse cx="512.0" cy="1801.6" rx="1.8" ry="2.4" fill="rgb(117,117,117)"/>
<ellipse cx="513.5" cy="1801.6" rx="1.8" ry="2.9" fill="rgb(104,104,104)"/>
<ellipse cx="515.0" cy="1801.6" rx="1.8" ry="2.9" fill="rgb(107,107,107)"/>
<ellipse cx="516.5" cy="1801.6" rx="1.8" ry="2.8" fill="rgb(118,118,118)"/>
<ellipse cx="518.0" cy="1801.7" rx="1.8" ry="2.7" fill="rgb(129,129,129)"/>
<ellipse cx="519.5" cy="1801.7" rx="1.8" ry="2.6" fill="rgb(139,139,139)"/>
<ellipse cx="521.0" cy="1801.7" rx="1.8" ry="2.5" fill="rgb(150,150,150)"/>
<ellipse cx="522.5" cy="1801.7" rx="1.8" ry="2.4" fill="rgb(156,156,156)"/>
<ellipse cx="524.0" cy="1801.7" rx="1.8" ry="2.3" fill="rgb(162,162,162)"/>
<ellipse cx="525.5" cy="1801.8" rx="1.8" ry="2.2" fill="rgb(168,168,168)"/>
<ellipse cx="527.0" cy="1801.8" rx="1.8" ry="2.2" fill="rgb(173,173,173)"/>
<ellipse cx="528.5" cy="1801.8" rx="1.8" ry="2.1" fill="rgb(179,179,179)"/>
<ellipse cx="530.0" cy="1801.8" rx="1.8" ry="2.0" fill="rgb(185,185,185)"/>
<ellipse cx="531.5" cy="1801.8" rx="1.8" ry="2.1" fill="rgb(178,178,178)"/>
<ellipse cx="533.0" cy="1801.8" rx="1.8" ry="2.2" fill="rgb(170,170,170)"/>
<ellipse cx="534.5" cy="1801.8" rx="1.8" ry="2.3" fill="rgb(162,162,162)"/>
<ellipse cx="536.0" cy="1801.8" rx="1.8" ry="2.4" fill="rgb(155,155,155)"/>
<ellipse cx="537.5" cy="1801.8" rx="1.8" ry="2.6" fill="rgb(146,146,146)"/>
<ellipse cx="539.0" cy="1801.8" rx="1.8" ry="2.8" fill="rgb(135,135,135)"/>
<ellipse cx="540.5" cy="1801.9" rx="1.8" ry="2.9" fill="rgb(124,124,124)"/>
<ellipse cx="542.0" cy="1801.9" rx="1.8" ry="2.8" fill="rgb(128,128,128)"/>
<ellipse cx="543.5" cy="1802.0" rx="1.8" ry="2.5" fill="rgb(140,140,140)"/>
<ellipse cx="545.0" cy="1802.0" rx="1.8" ry="2.2" fill="rgb(152,152,152)"/>
</g>
<g filter="url(#b12)">
<ellipse cx="339.5" cy="1855.6" rx="1.8" ry="4.0" fill="rgb(0,0,0)"/>
<ellipse cx="341.0" cy="1855.6" rx="1.8" ry="5.5" fill="rgb(0,0,0)"/>
<ellipse cx="342.5" cy="1855.6" rx="1.8" ry="6.3" fill="rgb(0,0,0)"/>
<ellipse cx="344.0" cy="1855.6" rx="1.8" ry="6.7" fill="rgb(0,0,0)"/>
<ellipse cx="345.5" cy="1855.6" rx="1.8" ry="7.0" fill="rgb(0,0,0)"/>
<ellipse cx="347.0" cy="1855.6" rx="1.8" ry="7.0" fill="rgb(0,0,0)"/>
<ellipse cx="348.5" cy="1855.6" rx="1.8" ry="6.9" fill="rgb(0,0,0)"/>
<ellipse cx="350.0" cy="1855.6" rx="1.8" ry="6.9" fill="rgb(0,0,0)"/>
<ellipse cx="351.5" cy="1855.6" rx="1.8" ry="6.9" fill="rgb(0,0,0)"/>
<ellipse cx="353.0" cy="1855.5" rx="1.8" ry="6.9" fill="rgb(0,0,0)"/>
<ellipse cx="354.5" cy="1855.5" rx="1.8" ry="6.8" fill="rgb(0,0,0)"/>
<ellipse cx="356.0" cy="1855.5" rx="1.8" ry="6.8" fill="rgb(0,0,0)"/>
<ellipse cx="357.5" cy="1855.5" rx="1.8" ry="6.8" fill="rgb(0,0,0)"/>
<ellipse cx="359.0" cy="1855.5" rx="1.8" ry="6.8" fill="rgb(0,0,0)"/>
<ellipse cx="360.5" cy="1855.5" rx="1.8" ry="6.8" fill="rgb(0,0,0)"/>
<ellipse cx="362.0" cy="1855.5" rx="1.8" ry="6.8" fill="rgb(0,0,0)"/>
<ellipse cx="363.5" cy="1855.6" rx="1.8" ry="6.9" fill="rgb(0,0,0)"/>
<ellipse cx="365.0" cy="1855.6" rx="1.8" ry="6.9" fill="rgb(0,0,0)"/>
<ellipse cx="366.5" cy="1855.6" rx="1.8" ry="7.0" fill="rgb(0,0,0)"/>
<ellipse cx="368.0" cy="1855.6" rx="1.8" ry="7.1" fill="rgb(0,0,0)"/>
<ellipse cx="369.5" cy="1855.6" rx="1.8" ry="7.1" fill="rgb(0,0,0)"/>
<ellipse cx="371.0" cy="1855.7" rx="1.8" ry="7.2" fill="rgb(0,0,0)"/>
<ellipse cx="372.5" cy="1855.7" rx="1.8" ry="7.2" fill="rgb(0,0,0)"/>
<ellipse cx="374.0" cy="1855.8" rx="1.8" ry="7.3" fill="rgb(0,0,0)"/>
<ellipse cx="375.5" cy="1855.8" rx="1.8" ry="7.4" fill="rgb(0,0,0)"/>
<ellipse cx="377.0" cy="1855.9" rx="1.8" ry="7.5" fill="rgb(0,0,0)"/>
<ellipse cx="378.5" cy="1856.0" rx="1.8" ry="7.2" fill="rgb(0,0,0)"/>
<ellipse cx="380.0" cy="1856.0" rx="1.8" ry="6.3" fill="rgb(0,0,0)"/>
<ellipse cx="381.5" cy="1856.0" rx="1.8" ry="4.3" fill="rgb(0,0,0)"/>
</g>
<g filter="url(#b12)">
<ellipse cx="395.0" cy="1857.2" rx="1.8" ry="4.5" fill="rgb(0,0,0)"/>
<ellipse cx="396.5" cy="1857.2" rx="1.8" ry="5.1" fill="rgb(0,0,0)"/>
<ellipse cx="398.0" cy="1857.2" rx="1.8" ry="5.6" fill="rgb(0,0,0)"/>
<ellipse cx="399.5" cy="1857.2" rx="1.8" ry="6.0" fill="rgb(0,0,0)"/>
<ellipse cx="401.0" cy="1857.2" rx="1.8" ry="5.9" fill="rgb(1,1,1)"/>
<ellipse cx="402.5" cy="1857.2" rx="1.8" ry="5.8" fill="rgb(2,2,2)"/>
<ellipse cx="404.0" cy="1857.2" rx="1.8" ry="5.8" fill="rgb(2,2,2)"/>
<ellipse cx="405.5" cy="1857.3" rx="1.8" ry="5.7" fill="rgb(3,3,3)"/>
<ellipse cx="407.0" cy="1857.3" rx="1.8" ry="5.6" fill="rgb(4,4,4)"/>
<ellipse cx="408.5" cy="1857.3" rx="1.8" ry="5.6" fill="rgb(4,4,4)"/>
<ellipse cx="410.0" cy="1857.3" rx="1.8" ry="5.5" fill="rgb(5,5,5)"/>
<ellipse cx="411.5" cy="1857.3" rx="1.8" ry="5.4" fill="rgb(5,5,5)"/>
<ellipse cx="413.0" cy="1857.3" rx="1.8" ry="5.3" fill="rgb(6,6,6)"/>
<ellipse cx="414.5" cy="1857.3" rx="1.8" ry="5.3" fill="rgb(6,6,6)"/>
<ellipse cx="416.0" cy="1857.4" rx="1.8" ry="5.2" fill="rgb(7,7,7)"/>
<ellipse cx="417.5" cy="1857.4" rx="1.8" ry="5.1" fill="rgb(7,7,7)"/>
<ellipse cx="419.0" cy="1857.4" rx="1.8" ry="5.0" fill="rgb(8,8,8)"/>
<ellipse cx="420.5" cy="1857.4" rx="1.8" ry="5.1" fill="rgb(8,8,8)"/>
<ellipse cx="422.0" cy="1857.4" rx="1.8" ry="5.2" fill="rgb(6,6,6)"/>
<ellipse cx="423.5" cy="1857.5" rx="1.8" ry="5.4" fill="rgb(5,5,5)"/>
<ellipse cx="425.0" cy="1857.5" rx="1.8" ry="5.6" fill="rgb(4,4,4)"/>
<ellipse cx="426.5" cy="1857.5" rx="1.8" ry="5.7" fill="rgb(2,2,2)"/>
<ellipse cx="428.0" cy="1857.6" rx="1.8" ry="5.9" fill="rgb(1,1,1)"/>
<ellipse cx="429.5" cy="1857.6" rx="1.8" ry="6.0" fill="rgb(0,0,0)"/>
<ellipse cx="431.0" cy="1857.7" rx="1.8" ry="6.2" fill="rgb(0,0,0)"/>
<ellipse cx="432.5" cy="1857.7" rx="1.8" ry="6.3" fill="rgb(0,0,0)"/>
<ellipse cx="434.0" cy="1857.8" rx="1.8" ry="6.4" fill="rgb(0,0,0)"/>
<ellipse cx="435.5" cy="1857.8" rx="1.8" ry="6.2" fill="rgb(0,0,0)"/>
<ellipse cx="437.0" cy="1857.9" rx="1.8" ry="5.3" fill="rgb(0,0,0)"/>
</g>
<g filter="url(#b12)">
<ellipse cx="453.5" cy="1858.4" rx="1.8" ry="2.5" fill="rgb(30,30,30)"/>
<ellipse cx="455.0" cy="1858.4" rx="1.8" ry="3.1" fill="rgb(21,21,21)"/>
<ellipse cx="456.5" cy="1858.4" rx="1.8" ry="3.8" fill="rgb(13,13,13)"/>
<ellipse cx="458.0" cy="1858.4" rx="1.8" ry="3.9" fill="rgb(12,12,12)"/>
<ellipse cx="459.5" cy="1858.4" rx="1.8" ry="3.8" fill="rgb(14,14,14)"/>
<ellipse cx="461.0" cy="1858.5" rx="1.8" ry="3.7" fill="rgb(17,17,17)"/>
<ellipse cx="462.5" cy="1858.5" rx="1.8" ry="3.5" fill="rgb(19,19,19)"/>
<ellipse cx="464.0" cy="1858.5" rx="1.8" ry="3.0" fill="rgb(45,45,45)"/>
<ellipse cx="465.5" cy="1858.6" rx="1.8" ry="2.2" fill="rgb(82,82,82)"/>
<ellipse cx="467.0" cy="1858.6" rx="1.8" ry="1.5" fill="rgb(120,120,120)"/>
<ellipse cx="468.5" cy="1858.6" rx="1.8" ry="1.5" fill="rgb(118,118,118)"/>
<ellipse cx="470.0" cy="1858.6" rx="1.8" ry="1.5" fill="rgb(116,116,116)"/>
<ellipse cx="471.5" cy="1858.7" rx="1.8" ry="1.5" fill="rgb(114,114,114)"/>
<ellipse cx="473.0" cy="1858.7" rx="1.8" ry="1.5" fill="rgb(112,112,112)"/>
<ellipse cx="474.5" cy="1858.7" rx="1.8" ry="1.5" fill="rgb(111,111,111)"/>
<ellipse cx="476.0" cy="1858.7" rx="1.8" ry="2.1" fill="rgb(85,85,85)"/>
<ellipse cx="477.5" cy="1858.8" rx="1.8" ry="3.1" fill="rgb(48,48,48)"/>
<ellipse cx="479.0" cy="1858.8" rx="1.8" ry="4.0" fill="rgb(10,10,10)"/>
<ellipse cx="480.5" cy="1858.8" rx="1.8" ry="4.1" fill="rgb(8,8,8)"/>
<ellipse cx="482.0" cy="1858.8" rx="1.8" ry="4.2" fill="rgb(7,7,7)"/>
<ellipse cx="483.5" cy="1858.8" rx="1.8" ry="4.2" fill="rgb(5,5,5)"/>
<ellipse cx="485.0" cy="1858.9" rx="1.8" ry="4.3" fill="rgb(3,3,3)"/>
<ellipse cx="486.5" cy="1858.9" rx="1.8" ry="4.4" fill="rgb(2,2,2)"/>
<ellipse cx="488.0" cy="1858.9" rx="1.8" ry="4.5" fill="rgb(0,0,0)"/>
<ellipse cx="489.5" cy="1858.9" rx="1.8" ry="4.0" fill="rgb(7,7,7)"/>
<ellipse cx="491.0" cy="1858.9" rx="1.8" ry="3.6" fill="rgb(14,14,14)"/>
<ellipse cx="492.5" cy="1859.0" rx="1.8" ry="3.1" fill="rgb(21,21,21)"/>
<ellipse cx="494.0" cy="1859.0" rx="1.8" ry="2.6" fill="rgb(28,28,28)"/>
</g>
<g filter="url(#b12)">
<ellipse cx="509.5" cy="1858.5" rx="1.8" ry="3.0" fill="rgb(10,10,10)"/>
<ellipse cx="511.0" cy="1858.5" rx="1.8" ry="3.6" fill="rgb(6,6,6)"/>
<ellipse cx="512.5" cy="1858.6" rx="1.8" ry="4.3" fill="rgb(1,1,1)"/>
<ellipse cx="514.0" cy="1858.6" rx="1.8" ry="4.5" fill="rgb(1,1,1)"/>
<ellipse cx="515.5" cy="1858.7" rx="1.8" ry="4.4" fill="rgb(2,2,2)"/>
<ellipse cx="517.0" cy="1858.7" rx="1.8" ry="4.3" fill="rgb(4,4,4)"/>
<ellipse cx="518.5" cy="1858.8" rx="1.8" ry="4.2" fill="rgb(5,5,5)"/>
<ellipse cx="520.0" cy="1858.9" rx="1.8" ry="4.2" fill="rgb(6,6,6)"/>
<ellipse cx="521.5" cy="1858.9" rx="1.8" ry="4.1" fill="rgb(8,8,8)"/>
<ellipse cx="523.0" cy="1859.0" rx="1.8" ry="4.0" fill="rgb(9,9,9)"/>
<ellipse cx="524.5" cy="1859.0" rx="1.8" ry="3.9" fill="rgb(12,12,12)"/>
<ellipse cx="526.0" cy="1859.1" rx="1.8" ry="3.8" fill="rgb(19,19,19)"/>
<ellipse cx="527.5" cy="1859.2" rx="1.8" ry="3.6" fill="rgb(25,25,25)"/>
<ellipse cx="529.0" cy="1859.3" rx="1.8" ry="3.4" fill="rgb(32,32,32)"/>
<ellipse cx="530.5" cy="1859.4" rx="1.8" ry="3.2" fill="rgb(38,38,38)"/>
<ellipse cx="532.0" cy="1859.5" rx="1.8" ry="3.0" fill="rgb(45,45,45)"/>
<ellipse cx="533.5" cy="1859.6" rx="1.8" ry="2.9" fill="rgb(48,48,48)"/>
<ellipse cx="535.0" cy="1859.7" rx="1.8" ry="2.8" fill="rgb(51,51,51)"/>
<ellipse cx="536.5" cy="1859.8" rx="1.8" ry="2.7" fill="rgb(53,53,53)"/>
<ellipse cx="538.0" cy="1859.9" rx="1.8" ry="2.6" fill="rgb(56,56,56)"/>
<ellipse cx="539.5" cy="1860.0" rx="1.8" ry="2.5" fill="rgb(59,59,59)"/>
<ellipse cx="541.0" cy="1860.1" rx="1.8" ry="2.6" fill="rgb(53,53,53)"/>
<ellipse cx="542.5" cy="1860.2" rx="1.8" ry="2.8" fill="rgb(42,42,42)"/>
<ellipse cx="544.0" cy="1860.4" rx="1.8" ry="2.9" fill="rgb(32,32,32)"/>
<ellipse cx="545.5" cy="1860.5" rx="1.8" ry="3.0" fill="rgb(24,24,24)"/>
<ellipse cx="547.0" cy="1860.7" rx="1.8" ry="3.0" fill="rgb(20,20,20)"/>
<ellipse cx="548.5" cy="1860.8" rx="1.8" ry="3.0" fill="rgb(16,16,16)"/>
<ellipse cx="550.0" cy="1860.9" rx="1.8" ry="2.7" fill="rgb(30,30,30)"/>
<ellipse cx="551.5" cy="1861.0" rx="1.8" ry="2.2" fill="rgb(52,52,52)"/>
</g>
<circle cx="354.6" cy="1837.8" r="2" fill="#1a1a1a" filter="url(#b12)"/>
<circle cx="433.1" cy="1867.4" r="2.2" fill="#000" filter="url(#b12)"/>
<circle cx="493.5" cy="1839.8" r="1" fill="#555"/>
<rect x="338" y="1868" width="48" height="11" fill="#d9d9d9" filter="url(#b30)"/>
<rect x="212" y="1903" width="354" height="20" rx="8" fill="#bbb" opacity="0.45" filter="url(#b30)"/>
<g filter="url(#b18)">
<ellipse cx="209.0" cy="1909.5" rx="1.8" ry="2.0" fill="rgb(190,190,190)"/>
<ellipse cx="210.5" cy="1909.6" rx="1.8" ry="2.1" fill="rgb(183,183,183)"/>
<ellipse cx="212.0" cy="1909.7" rx="1.8" ry="2.2" fill="rgb(177,177,177)"/>
<ellipse cx="213.5" cy="1909.8" rx="1.8" ry="2.2" fill="rgb(170,170,170)"/>
<ellipse cx="215.0" cy="1909.8" rx="1.8" ry="2.3" fill="rgb(163,163,163)"/>
<ellipse cx="216.5" cy="1909.9" rx="1.8" ry="2.4" fill="rgb(157,157,157)"/>
<ellipse cx="218.0" cy="1910.0" rx="1.8" ry="2.5" fill="rgb(150,150,150)"/>
<ellipse cx="219.5" cy="1910.0" rx="1.8" ry="3.2" fill="rgb(95,95,95)"/>
<ellipse cx="221.0" cy="1910.0" rx="1.8" ry="4.0" fill="rgb(40,40,40)"/>
<ellipse cx="222.5" cy="1910.2" rx="1.8" ry="4.5" fill="rgb(25,25,25)"/>
<ellipse cx="224.0" cy="1910.5" rx="1.8" ry="5.0" fill="rgb(10,10,10)"/>
<ellipse cx="225.5" cy="1910.5" rx="1.8" ry="5.0" fill="rgb(9,9,9)"/>
<ellipse cx="227.0" cy="1910.5" rx="1.8" ry="5.1" fill="rgb(8,8,8)"/>
<ellipse cx="228.5" cy="1910.6" rx="1.8" ry="5.1" fill="rgb(7,7,7)"/>
<ellipse cx="230.0" cy="1910.6" rx="1.8" ry="5.2" fill="rgb(6,6,6)"/>
<ellipse cx="231.5" cy="1910.6" rx="1.8" ry="5.2" fill="rgb(5,5,5)"/>
<ellipse cx="233.0" cy="1910.6" rx="1.8" ry="5.3" fill="rgb(4,4,4)"/>
<ellipse cx="234.5" cy="1910.6" rx="1.8" ry="5.3" fill="rgb(3,3,3)"/>
<ellipse cx="236.0" cy="1910.7" rx="1.8" ry="5.4" fill="rgb(2,2,2)"/>
<ellipse cx="237.5" cy="1910.7" rx="1.8" ry="5.4" fill="rgb(2,2,2)"/>
<ellipse cx="239.0" cy="1910.7" rx="1.8" ry="5.5" fill="rgb(1,1,1)"/>
<ellipse cx="240.5" cy="1910.7" rx="1.8" ry="5.5" fill="rgb(0,0,0)"/>
<ellipse cx="242.0" cy="1910.7" rx="1.8" ry="5.5" fill="rgb(0,0,0)"/>
<ellipse cx="243.5" cy="1910.7" rx="1.8" ry="5.5" fill="rgb(0,0,0)"/>
<ellipse cx="245.0" cy="1910.7" rx="1.8" ry="5.5" fill="rgb(0,0,0)"/>
<ellipse cx="246.5" cy="1910.7" rx="1.8" ry="5.5" fill="rgb(0,0,0)"/>
<ellipse cx="248.0" cy="1910.7" rx="1.8" ry="5.5" fill="rgb(0,0,0)"/>
<ellipse cx="249.5" cy="1910.7" rx="1.8" ry="5.5" fill="rgb(0,0,0)"/>
<ellipse cx="251.0" cy="1910.7" rx="1.8" ry="5.5" fill="rgb(0,0,0)"/>
<ellipse cx="252.5" cy="1910.7" rx="1.8" ry="5.5" fill="rgb(0,0,0)"/>
<ellipse cx="254.0" cy="1910.7" rx="1.8" ry="5.3" fill="rgb(2,2,2)"/>
<ellipse cx="255.5" cy="1910.6" rx="1.8" ry="5.2" fill="rgb(4,4,4)"/>
<ellipse cx="257.0" cy="1910.6" rx="1.8" ry="5.0" fill="rgb(5,5,5)"/>
<ellipse cx="258.5" cy="1910.6" rx="1.8" ry="4.8" fill="rgb(6,6,6)"/>
<ellipse cx="260.0" cy="1910.5" rx="1.8" ry="4.7" fill="rgb(8,8,8)"/>
<ellipse cx="261.5" cy="1910.5" rx="1.8" ry="4.5" fill="rgb(10,10,10)"/>
<ellipse cx="263.0" cy="1910.5" rx="1.8" ry="4.2" fill="rgb(16,16,16)"/>
<ellipse cx="264.5" cy="1910.5" rx="1.8" ry="3.9" fill="rgb(26,26,26)"/>
<ellipse cx="266.0" cy="1910.5" rx="1.8" ry="3.5" fill="rgb(35,35,35)"/>
<ellipse cx="267.5" cy="1910.5" rx="1.8" ry="3.1" fill="rgb(44,44,44)"/>
<ellipse cx="269.0" cy="1910.5" rx="1.8" ry="2.8" fill="rgb(54,54,54)"/>
<ellipse cx="270.5" cy="1910.4" rx="1.8" ry="2.5" fill="rgb(62,62,62)"/>
<ellipse cx="272.0" cy="1910.2" rx="1.8" ry="2.5" fill="rgb(67,67,67)"/>
<ellipse cx="273.5" cy="1910.0" rx="1.8" ry="2.8" fill="rgb(64,64,64)"/>
<ellipse cx="275.0" cy="1909.8" rx="1.8" ry="3.5" fill="rgb(46,46,46)"/>
<ellipse cx="276.5" cy="1909.7" rx="1.8" ry="4.2" fill="rgb(28,28,28)"/>
<ellipse cx="278.0" cy="1909.5" rx="1.8" ry="5.0" fill="rgb(10,10,10)"/>
<ellipse cx="279.5" cy="1909.5" rx="1.8" ry="5.2" fill="rgb(8,8,8)"/>
<ellipse cx="281.0" cy="1909.5" rx="1.8" ry="5.3" fill="rgb(7,7,7)"/>
<ellipse cx="282.5" cy="1909.5" rx="1.8" ry="5.5" fill="rgb(6,6,6)"/>
<ellipse cx="284.0" cy="1909.5" rx="1.8" ry="5.6" fill="rgb(4,4,4)"/>
<ellipse cx="285.5" cy="1909.5" rx="1.8" ry="5.8" fill="rgb(2,2,2)"/>
<ellipse cx="287.0" cy="1909.5" rx="1.8" ry="5.9" fill="rgb(1,1,1)"/>
<ellipse cx="288.5" cy="1909.5" rx="1.8" ry="6.0" fill="rgb(0,0,0)"/>
<ellipse cx="290.0" cy="1909.6" rx="1.8" ry="5.8" fill="rgb(2,2,2)"/>
<ellipse cx="291.5" cy="1909.6" rx="1.8" ry="5.7" fill="rgb(3,3,3)"/>
<ellipse cx="293.0" cy="1909.7" rx="1.8" ry="5.6" fill="rgb(4,4,4)"/>
<ellipse cx="294.5" cy="1909.8" rx="1.8" ry="5.5" fill="rgb(5,5,5)"/>
<ellipse cx="296.0" cy="1909.8" rx="1.8" ry="5.3" fill="rgb(7,7,7)"/>
<ellipse cx="297.5" cy="1909.9" rx="1.8" ry="5.2" fill="rgb(8,8,8)"/>
<ellipse cx="299.0" cy="1910.0" rx="1.8" ry="5.1" fill="rgb(9,9,9)"/>
<ellipse cx="300.5" cy="1910.0" rx="1.8" ry="5.0" fill="rgb(11,11,11)"/>
<ellipse cx="302.0" cy="1910.1" rx="1.8" ry="4.8" fill="rgb(12,12,12)"/>
<ellipse cx="303.5" cy="1910.1" rx="1.8" ry="4.7" fill="rgb(14,14,14)"/>
<ellipse cx="305.0" cy="1910.2" rx="1.8" ry="4.6" fill="rgb(16,16,16)"/>
<ellipse cx="306.5" cy="1910.3" rx="1.8" ry="4.5" fill="rgb(18,18,18)"/>
<ellipse cx="308.0" cy="1910.3" rx="1.8" ry="4.3" fill="rgb(20,20,20)"/>
<ellipse cx="309.5" cy="1910.4" rx="1.8" ry="4.2" fill="rgb(22,22,22)"/>
<ellipse cx="311.0" cy="1910.5" rx="1.8" ry="4.1" fill="rgb(24,24,24)"/>
<ellipse cx="312.5" cy="1910.5" rx="1.8" ry="4.0" fill="rgb(26,26,26)"/>
<ellipse cx="314.0" cy="1910.6" rx="1.8" ry="3.8" fill="rgb(29,29,29)"/>
<ellipse cx="315.5" cy="1910.7" rx="1.8" ry="3.6" fill="rgb(32,32,32)"/>
<ellipse cx="317.0" cy="1910.8" rx="1.8" ry="3.5" fill="rgb(35,35,35)"/>
<ellipse cx="318.5" cy="1910.8" rx="1.8" ry="3.4" fill="rgb(38,38,38)"/>
<ellipse cx="320.0" cy="1910.9" rx="1.8" ry="3.2" fill="rgb(41,41,41)"/>
<ellipse cx="321.5" cy="1911.0" rx="1.8" ry="3.0" fill="rgb(44,44,44)"/>
<ellipse cx="323.0" cy="1911.1" rx="1.8" ry="2.8" fill="rgb(52,52,52)"/>
<ellipse cx="324.5" cy="1911.2" rx="1.8" ry="2.6" fill="rgb(64,64,64)"/>
<ellipse cx="326.0" cy="1911.3" rx="1.8" ry="2.3" fill="rgb(75,75,75)"/>
<ellipse cx="327.5" cy="1911.5" rx="1.8" ry="2.1" fill="rgb(86,86,86)"/>
<ellipse cx="329.0" cy="1911.9" rx="1.8" ry="2.1" fill="rgb(82,82,82)"/>
<ellipse cx="330.5" cy="1912.4" rx="1.8" ry="2.3" fill="rgb(71,71,71)"/>
<ellipse cx="332.0" cy="1913.0" rx="1.8" ry="2.5" fill="rgb(60,60,60)"/>
<ellipse cx="333.5" cy="1913.1" rx="1.8" ry="2.8" fill="rgb(52,52,52)"/>
<ellipse cx="335.0" cy="1913.2" rx="1.8" ry="3.1" fill="rgb(45,45,45)"/>
<ellipse cx="336.5" cy="1913.3" rx="1.8" ry="3.3" fill="rgb(38,38,38)"/>
<ellipse cx="338.0" cy="1913.4" rx="1.8" ry="3.6" fill="rgb(30,30,30)"/>
<ellipse cx="339.5" cy="1913.5" rx="1.8" ry="3.9" fill="rgb(22,22,22)"/>
<ellipse cx="341.0" cy="1913.5" rx="1.8" ry="4.0" fill="rgb(20,20,20)"/>
<ellipse cx="342.5" cy="1913.5" rx="1.8" ry="4.0" fill="rgb(20,20,20)"/>
<ellipse cx="344.0" cy="1913.5" rx="1.8" ry="4.0" fill="rgb(20,20,20)"/>
<ellipse cx="345.5" cy="1913.5" rx="1.8" ry="4.0" fill="rgb(20,20,20)"/>
<ellipse cx="347.0" cy="1913.5" rx="1.8" ry="4.0" fill="rgb(20,20,20)"/>
<ellipse cx="348.5" cy="1913.5" rx="1.8" ry="4.0" fill="rgb(20,20,20)"/>
<ellipse cx="350.0" cy="1913.5" rx="1.8" ry="4.0" fill="rgb(20,20,20)"/>
<ellipse cx="351.5" cy="1913.5" rx="1.8" ry="4.0" fill="rgb(20,20,20)"/>
<ellipse cx="353.0" cy="1913.5" rx="1.8" ry="4.0" fill="rgb(20,20,20)"/>
<ellipse cx="354.5" cy="1913.6" rx="1.8" ry="4.1" fill="rgb(19,19,19)"/>
<ellipse cx="356.0" cy="1913.7" rx="1.8" ry="4.2" fill="rgb(18,18,18)"/>
<ellipse cx="357.5" cy="1913.7" rx="1.8" ry="4.2" fill="rgb(18,18,18)"/>
<ellipse cx="359.0" cy="1913.8" rx="1.8" ry="4.3" fill="rgb(17,17,17)"/>
<ellipse cx="360.5" cy="1913.8" rx="1.8" ry="4.3" fill="rgb(17,17,17)"/>
<ellipse cx="362.0" cy="1913.9" rx="1.8" ry="4.4" fill="rgb(16,16,16)"/>
<ellipse cx="363.5" cy="1913.9" rx="1.8" ry="4.4" fill="rgb(16,16,16)"/>
<ellipse cx="365.0" cy="1914.0" rx="1.8" ry="4.5" fill="rgb(15,15,15)"/>
<ellipse cx="366.5" cy="1914.1" rx="1.8" ry="4.7" fill="rgb(13,13,13)"/>
<ellipse cx="368.0" cy="1914.2" rx="1.8" ry="4.8" fill="rgb(10,10,10)"/>
<ellipse cx="369.5" cy="1914.2" rx="1.8" ry="5.0" fill="rgb(8,8,8)"/>
<ellipse cx="371.0" cy="1914.3" rx="1.8" ry="5.1" fill="rgb(6,6,6)"/>
<ellipse cx="372.5" cy="1914.4" rx="1.8" ry="5.2" fill="rgb(4,4,4)"/>
<ellipse cx="374.0" cy="1914.5" rx="1.8" ry="5.4" fill="rgb(2,2,2)"/>
<ellipse cx="375.5" cy="1914.5" rx="1.8" ry="5.4" fill="rgb(1,1,1)"/>
<ellipse cx="377.0" cy="1914.4" rx="1.8" ry="5.2" fill="rgb(3,3,3)"/>
<ellipse cx="378.5" cy="1914.2" rx="1.8" ry="5.0" fill="rgb(5,5,5)"/>
<ellipse cx="380.0" cy="1914.1" rx="1.8" ry="4.8" fill="rgb(7,7,7)"/>
<ellipse cx="381.5" cy="1914.0" rx="1.8" ry="4.6" fill="rgb(9,9,9)"/>
<ellipse cx="383.0" cy="1913.5" rx="1.8" ry="4.2" fill="rgb(17,17,17)"/>
<ellipse cx="384.5" cy="1912.8" rx="1.8" ry="3.7" fill="rgb(27,27,27)"/>
<ellipse cx="386.0" cy="1912.4" rx="1.8" ry="3.6" fill="rgb(28,28,28)"/>
<ellipse cx="387.5" cy="1912.2" rx="1.8" ry="3.8" fill="rgb(25,25,25)"/>
<ellipse cx="389.0" cy="1912.1" rx="1.8" ry="3.9" fill="rgb(22,22,22)"/>
<ellipse cx="390.5" cy="1912.0" rx="1.8" ry="4.0" fill="rgb(19,19,19)"/>
<ellipse cx="392.0" cy="1911.8" rx="1.8" ry="4.2" fill="rgb(16,16,16)"/>
<ellipse cx="393.5" cy="1911.7" rx="1.8" ry="4.3" fill="rgb(13,13,13)"/>
<ellipse cx="395.0" cy="1911.5" rx="1.8" ry="4.5" fill="rgb(10,10,10)"/>
<ellipse cx="396.5" cy="1911.5" rx="1.8" ry="4.5" fill="rgb(10,10,10)"/>
<ellipse cx="398.0" cy="1911.5" rx="1.8" ry="4.5" fill="rgb(10,10,10)"/>
<ellipse cx="399.5" cy="1911.5" rx="1.8" ry="4.5" fill="rgb(10,10,10)"/>
<ellipse cx="401.0" cy="1911.5" rx="1.8" ry="4.5" fill="rgb(10,10,10)"/>
<ellipse cx="402.5" cy="1911.5" rx="1.8" ry="4.5" fill="rgb(10,10,10)"/>
<ellipse cx="404.0" cy="1911.5" rx="1.8" ry="4.5" fill="rgb(10,10,10)"/>
<ellipse cx="405.5" cy="1911.5" rx="1.8" ry="4.5" fill="rgb(10,10,10)"/>
<ellipse cx="407.0" cy="1911.5" rx="1.8" ry="4.5" fill="rgb(10,10,10)"/>
<ellipse cx="408.5" cy="1911.5" rx="1.8" ry="4.5" fill="rgb(10,10,10)"/>
<ellipse cx="410.0" cy="1911.5" rx="1.8" ry="4.5" fill="rgb(10,10,10)"/>
<ellipse cx="411.5" cy="1911.5" rx="1.8" ry="4.5" fill="rgb(10,10,10)"/>
<ellipse cx="413.0" cy="1911.6" rx="1.8" ry="4.5" fill="rgb(11,11,11)"/>
<ellipse cx="414.5" cy="1911.6" rx="1.8" ry="4.5" fill="rgb(12,12,12)"/>
<ellipse cx="416.0" cy="1911.6" rx="1.8" ry="4.5" fill="rgb(12,12,12)"/>
<ellipse cx="417.5" cy="1911.7" rx="1.8" ry="4.5" fill="rgb(12,12,12)"/>
<ellipse cx="419.0" cy="1911.7" rx="1.8" ry="4.5" fill="rgb(13,13,13)"/>
<ellipse cx="420.5" cy="1911.7" rx="1.8" ry="4.5" fill="rgb(14,14,14)"/>
<ellipse cx="422.0" cy="1911.7" rx="1.8" ry="4.5" fill="rgb(14,14,14)"/>
<ellipse cx="423.5" cy="1911.8" rx="1.8" ry="4.5" fill="rgb(14,14,14)"/>
<ellipse cx="425.0" cy="1911.8" rx="1.8" ry="4.5" fill="rgb(15,15,15)"/>
<ellipse cx="426.5" cy="1911.8" rx="1.8" ry="4.4" fill="rgb(16,16,16)"/>
<ellipse cx="428.0" cy="1911.9" rx="1.8" ry="4.4" fill="rgb(16,16,16)"/>
<ellipse cx="429.5" cy="1911.9" rx="1.8" ry="4.3" fill="rgb(17,17,17)"/>
<ellipse cx="431.0" cy="1911.9" rx="1.8" ry="4.2" fill="rgb(18,18,18)"/>
<ellipse cx="432.5" cy="1911.9" rx="1.8" ry="4.2" fill="rgb(18,18,18)"/>
<ellipse cx="434.0" cy="1912.0" rx="1.8" ry="4.1" fill="rgb(19,19,19)"/>
<ellipse cx="435.5" cy="1912.0" rx="1.8" ry="4.0" fill="rgb(20,20,20)"/>
<ellipse cx="437.0" cy="1912.0" rx="1.8" ry="3.8" fill="rgb(26,26,26)"/>
<ellipse cx="438.5" cy="1912.0" rx="1.8" ry="3.5" fill="rgb(35,35,35)"/>
<ellipse cx="440.0" cy="1912.0" rx="1.8" ry="3.2" fill="rgb(44,44,44)"/>
<ellipse cx="441.5" cy="1912.0" rx="1.8" ry="2.9" fill="rgb(56,56,56)"/>
<ellipse cx="443.0" cy="1912.0" rx="1.8" ry="2.6" fill="rgb(74,74,74)"/>
<ellipse cx="444.5" cy="1912.0" rx="1.8" ry="2.3" fill="rgb(92,92,92)"/>
<ellipse cx="446.0" cy="1912.0" rx="1.8" ry="2.0" fill="rgb(110,110,110)"/>
<ellipse cx="447.5" cy="1912.2" rx="1.8" ry="2.2" fill="rgb(91,91,91)"/>
<ellipse cx="449.0" cy="1912.4" rx="1.8" ry="2.4" fill="rgb(72,72,72)"/>
<ellipse cx="450.5" cy="1912.5" rx="1.8" ry="2.6" fill="rgb(58,58,58)"/>
<ellipse cx="452.0" cy="1912.6" rx="1.8" ry="2.8" fill="rgb(52,52,52)"/>
<ellipse cx="453.5" cy="1912.7" rx="1.8" ry="2.9" fill="rgb(47,47,47)"/>
<ellipse cx="455.0" cy="1912.8" rx="1.8" ry="3.1" fill="rgb(41,41,41)"/>
<ellipse cx="456.5" cy="1912.9" rx="1.8" ry="3.3" fill="rgb(36,36,36)"/>
<ellipse cx="458.0" cy="1913.0" rx="1.8" ry="3.5" fill="rgb(30,30,30)"/>
<ellipse cx="459.5" cy="1913.0" rx="1.8" ry="3.6" fill="rgb(29,29,29)"/>
<ellipse cx="461.0" cy="1913.1" rx="1.8" ry="3.6" fill="rgb(28,28,28)"/>
<ellipse cx="462.5" cy="1913.1" rx="1.8" ry="3.7" fill="rgb(26,26,26)"/>
<ellipse cx="464.0" cy="1913.2" rx="1.8" ry="3.8" fill="rgb(25,25,25)"/>
<ellipse cx="465.5" cy="1913.2" rx="1.8" ry="3.8" fill="rgb(24,24,24)"/>
<ellipse cx="467.0" cy="1913.2" rx="1.8" ry="3.9" fill="rgb(22,22,22)"/>
<ellipse cx="468.5" cy="1913.3" rx="1.8" ry="3.9" fill="rgb(21,21,21)"/>
<ellipse cx="470.0" cy="1913.3" rx="1.8" ry="4.0" fill="rgb(20,20,20)"/>
<ellipse cx="471.5" cy="1913.3" rx="1.8" ry="4.0" fill="rgb(20,20,20)"/>
<ellipse cx="473.0" cy="1913.3" rx="1.8" ry="4.1" fill="rgb(19,19,19)"/>
<ellipse cx="474.5" cy="1913.4" rx="1.8" ry="4.2" fill="rgb(18,18,18)"/>
<ellipse cx="476.0" cy="1913.4" rx="1.8" ry="4.2" fill="rgb(18,18,18)"/>
<ellipse cx="477.5" cy="1913.4" rx="1.8" ry="4.2" fill="rgb(18,18,18)"/>
<ellipse cx="479.0" cy="1913.4" rx="1.8" ry="4.3" fill="rgb(17,17,17)"/>
<ellipse cx="480.5" cy="1913.4" rx="1.8" ry="4.3" fill="rgb(16,16,16)"/>
<ellipse cx="482.0" cy="1913.5" rx="1.8" ry="4.4" fill="rgb(16,16,16)"/>
<ellipse cx="483.5" cy="1913.5" rx="1.8" ry="4.5" fill="rgb(16,16,16)"/>
<ellipse cx="485.0" cy="1913.5" rx="1.8" ry="4.5" fill="rgb(15,15,15)"/>
<ellipse cx="486.5" cy="1913.5" rx="1.8" ry="4.5" fill="rgb(14,14,14)"/>
<ellipse cx="488.0" cy="1913.5" rx="1.8" ry="4.5" fill="rgb(14,14,14)"/>
<ellipse cx="489.5" cy="1913.5" rx="1.8" ry="4.5" fill="rgb(13,13,13)"/>
<ellipse cx="491.0" cy="1913.5" rx="1.8" ry="4.5" fill="rgb(12,12,12)"/>
<ellipse cx="492.5" cy="1913.5" rx="1.8" ry="4.5" fill="rgb(11,11,11)"/>
<ellipse cx="494.0" cy="1913.5" rx="1.8" ry="4.5" fill="rgb(10,10,10)"/>
<ellipse cx="495.5" cy="1913.6" rx="1.8" ry="4.4" fill="rgb(11,11,11)"/>
<ellipse cx="497.0" cy="1913.8" rx="1.8" ry="4.2" fill="rgb(15,15,15)"/>
<ellipse cx="498.5" cy="1913.9" rx="1.8" ry="4.1" fill="rgb(19,19,19)"/>
<ellipse cx="500.0" cy="1914.1" rx="1.8" ry="3.9" fill="rgb(22,22,22)"/>
<ellipse cx="501.5" cy="1914.3" rx="1.8" ry="3.7" fill="rgb(26,26,26)"/>
<ellipse cx="503.0" cy="1914.5" rx="1.8" ry="3.5" fill="rgb(30,30,30)"/>
<ellipse cx="504.5" cy="1914.8" rx="1.8" ry="3.8" fill="rgb(25,25,25)"/>
<ellipse cx="506.0" cy="1915.1" rx="1.8" ry="4.1" fill="rgb(19,19,19)"/>
<ellipse cx="507.5" cy="1915.5" rx="1.8" ry="4.5" fill="rgb(14,14,14)"/>
<ellipse cx="509.0" cy="1915.8" rx="1.8" ry="4.8" fill="rgb(9,9,9)"/>
<ellipse cx="510.5" cy="1916.0" rx="1.8" ry="5.0" fill="rgb(5,5,5)"/>
<ellipse cx="512.0" cy="1916.2" rx="1.8" ry="5.1" fill="rgb(4,4,4)"/>
<ellipse cx="513.5" cy="1916.3" rx="1.8" ry="5.2" fill="rgb(3,3,3)"/>
<ellipse cx="515.0" cy="1916.5" rx="1.8" ry="5.2" fill="rgb(2,2,2)"/>
<ellipse cx="516.5" cy="1916.7" rx="1.8" ry="5.3" fill="rgb(2,2,2)"/>
<ellipse cx="518.0" cy="1916.8" rx="1.8" ry="5.4" fill="rgb(1,1,1)"/>
<ellipse cx="519.5" cy="1917.0" rx="1.8" ry="5.5" fill="rgb(0,0,0)"/>
<ellipse cx="521.0" cy="1917.0" rx="1.8" ry="5.5" fill="rgb(0,0,0)"/>
<ellipse cx="522.5" cy="1917.0" rx="1.8" ry="5.4" fill="rgb(0,0,0)"/>
<ellipse cx="524.0" cy="1917.0" rx="1.8" ry="5.3" fill="rgb(0,0,0)"/>
<ellipse cx="525.5" cy="1917.0" rx="1.8" ry="5.2" fill="rgb(0,0,0)"/>
<ellipse cx="527.0" cy="1917.0" rx="1.8" ry="5.2" fill="rgb(0,0,0)"/>
<ellipse cx="528.5" cy="1917.0" rx="1.8" ry="5.1" fill="rgb(0,0,0)"/>
<ellipse cx="530.0" cy="1917.0" rx="1.8" ry="5.0" fill="rgb(0,0,0)"/>
<ellipse cx="531.5" cy="1917.2" rx="1.8" ry="4.8" fill="rgb(6,6,6)"/>
<ellipse cx="533.0" cy="1917.4" rx="1.8" ry="4.6" fill="rgb(11,11,11)"/>
<ellipse cx="534.5" cy="1917.6" rx="1.8" ry="4.4" fill="rgb(17,17,17)"/>
<ellipse cx="536.0" cy="1917.8" rx="1.8" ry="4.2" fill="rgb(22,22,22)"/>
<ellipse cx="537.5" cy="1917.9" rx="1.8" ry="4.1" fill="rgb(28,28,28)"/>
<ellipse cx="539.0" cy="1918.1" rx="1.8" ry="4.0" fill="rgb(32,32,32)"/>
<ellipse cx="540.5" cy="1918.2" rx="1.8" ry="3.9" fill="rgb(34,34,34)"/>
<ellipse cx="542.0" cy="1918.4" rx="1.8" ry="3.8" fill="rgb(36,36,36)"/>
<ellipse cx="543.5" cy="1918.5" rx="1.8" ry="3.7" fill="rgb(38,38,38)"/>
<ellipse cx="545.0" cy="1918.7" rx="1.8" ry="3.6" fill="rgb(40,40,40)"/>
<ellipse cx="546.5" cy="1918.8" rx="1.8" ry="3.6" fill="rgb(43,43,43)"/>
<ellipse cx="548.0" cy="1919.0" rx="1.8" ry="3.5" fill="rgb(45,45,45)"/>
<ellipse cx="549.5" cy="1919.1" rx="1.8" ry="3.4" fill="rgb(47,47,47)"/>
<ellipse cx="551.0" cy="1919.2" rx="1.8" ry="3.4" fill="rgb(50,50,50)"/>
<ellipse cx="552.5" cy="1919.2" rx="1.8" ry="3.3" fill="rgb(52,52,52)"/>
<ellipse cx="554.0" cy="1919.3" rx="1.8" ry="3.2" fill="rgb(54,54,54)"/>
<ellipse cx="555.5" cy="1919.4" rx="1.8" ry="3.1" fill="rgb(56,56,56)"/>
<ellipse cx="557.0" cy="1919.5" rx="1.8" ry="3.0" fill="rgb(58,58,58)"/>
<ellipse cx="558.5" cy="1919.5" rx="1.8" ry="2.9" fill="rgb(66,66,66)"/>
<ellipse cx="560.0" cy="1919.5" rx="1.8" ry="2.6" fill="rgb(83,83,83)"/>
<ellipse cx="561.5" cy="1919.5" rx="1.8" ry="2.2" fill="rgb(100,100,100)"/>
<ellipse cx="563.0" cy="1919.5" rx="1.8" ry="1.9" fill="rgb(117,117,117)"/>
<ellipse cx="564.5" cy="1919.5" rx="1.8" ry="1.6" fill="rgb(134,134,134)"/>
</g>
<text x="136.33" y="1812.80" font-size="29.8" font-weight="normal" font-style="normal" textLength="39.15" lengthAdjust="spacingAndGlyphs" fill="#000">FN</text>
<path d="M183.25,1812.80 L185.90,1812.80 L185.90,1792.20 L183.75,1792.20 C183.05,1794.67 181.65,1796.11 178.00,1796.22 L178.00,1798.17 L183.25,1798.17 Z" fill="#000"/>
<text x="98.10" y="1868.60" font-size="29.8" font-weight="normal" font-style="normal" textLength="93.94" lengthAdjust="spacingAndGlyphs" fill="#000">ACTA2</text>
<text x="87.42" y="1930.80" font-size="29.8" font-weight="normal" font-style="normal" textLength="104.41" lengthAdjust="spacingAndGlyphs" fill="#000">GAPDH</text>
<text x="111.22" y="1977.70" font-size="29.3" font-weight="normal" font-style="normal" textLength="79.31" lengthAdjust="spacingAndGlyphs" fill="#000">Lanes</text>
<path d="M243.15,1977.80 L245.80,1977.80 L245.80,1957.10 L243.65,1957.10 C242.95,1959.58 241.55,1961.03 238.00,1961.14 L238.00,1963.10 L243.15,1963.10 Z" fill="#000"/>
<text x="293.20" y="1977.50" font-size="29.9" font-weight="normal" font-style="normal" fill="#000">2</text>
<text x="353.55" y="1977.50" font-size="29.9" font-weight="normal" font-style="normal" fill="#000">3</text>
<text x="413.65" y="1977.50" font-size="29.9" font-weight="normal" font-style="normal" fill="#000">4</text>
<text x="467.70" y="1977.50" font-size="29.9" font-weight="normal" font-style="normal" fill="#000">5</text>
<text x="521.70" y="1977.50" font-size="29.9" font-weight="normal" font-style="normal" fill="#000">6</text>
<text x="582.33" y="1804.60" font-size="29.6" font-weight="normal" font-style="normal" textLength="108.32" lengthAdjust="spacingAndGlyphs" fill="#000">250 kDa</text>
<text x="583.31" y="1880.90" font-size="29.1" font-weight="normal" font-style="normal" textLength="91.19" lengthAdjust="spacingAndGlyphs" fill="#000">35 kDa</text>
<text x="583.30" y="1923.40" font-size="28.7" font-weight="normal" font-style="normal" textLength="91.13" lengthAdjust="spacingAndGlyphs" fill="#000">35 kDa</text>
<rect x="563.80" y="1792.60" width="7.60" height="3.00" fill="#000"/>
<rect x="563.80" y="1868.90" width="7.60" height="3.00" fill="#000"/>
<rect x="568.60" y="1911.80" width="6.70" height="3.00" fill="#000"/>
</svg></body></html>
